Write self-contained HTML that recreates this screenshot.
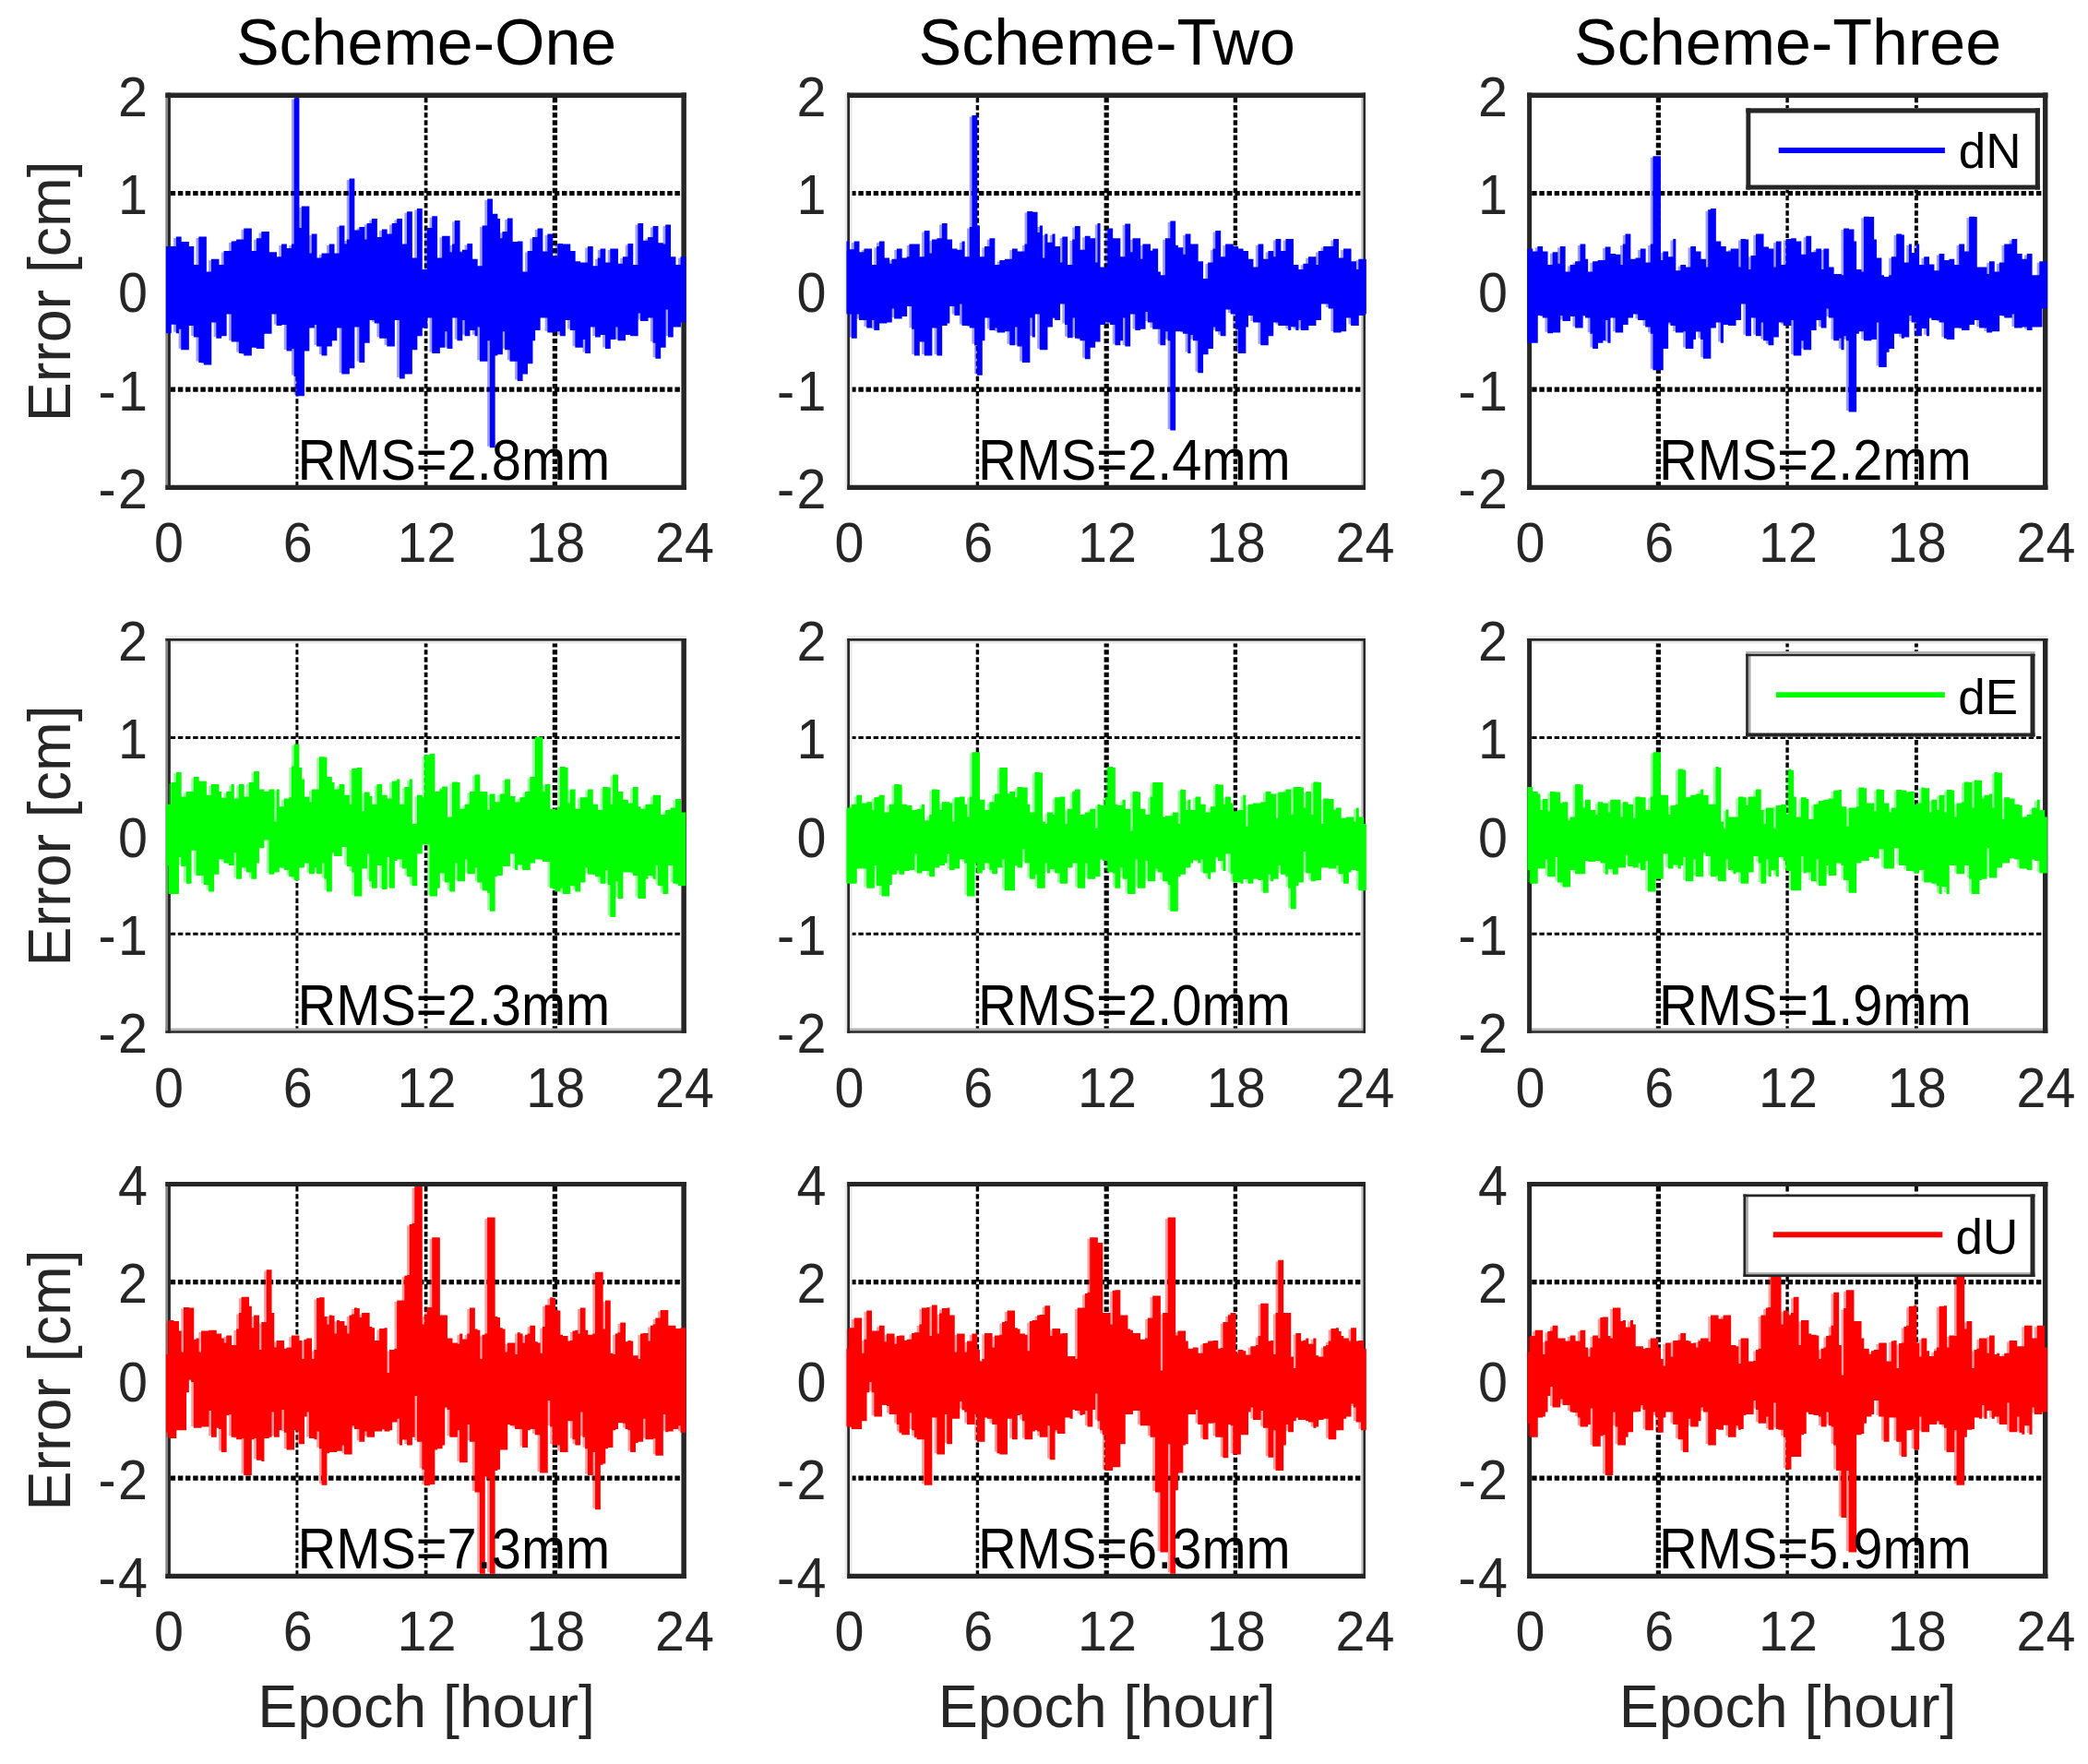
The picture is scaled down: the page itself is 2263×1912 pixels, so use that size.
<!DOCTYPE html>
<html lang="en"><head><meta charset="utf-8"><title>Positioning error of three schemes</title>
<style>html,body{margin:0;padding:0;background:#fff}body{width:2263px;height:1912px;overflow:hidden}svg{display:block}
text{font-family:"Liberation Sans", Arial, sans-serif}
.tk{font-size:57.5px;fill:#262626}.lb{font-size:64.5px;fill:#262626}.tt{font-size:70px;fill:#000}.rm{font-size:57.8px;fill:#000}.lg{font-size:53px;fill:#000}
.gr{stroke:#000;stroke-dasharray:5.44 2.72;fill:none}.bx{stroke:#262626;stroke-width:5.3;fill:none}
.d{fill:none;stroke-width:3.1;stroke-linecap:butt}
</style></head><body>
<svg width="2263" height="1912" viewBox="0 0 2263 1912">
<rect width="2263" height="1912" fill="#fff"/>
<g>
<line class="gr" stroke-width="3.0" x1="321.9" y1="105.8" x2="321.9" y2="526.4"/>
<line class="gr" stroke-width="3.7" x1="461.6" y1="105.8" x2="461.6" y2="526.4"/>
<line class="gr" stroke-width="5.3" x1="601.4" y1="105.8" x2="601.4" y2="526.4"/>
<line class="gr" stroke-width="5.2" x1="184.7" y1="209.5" x2="739.1" y2="209.5"/>
<line class="gr" stroke-width="5.2" x1="184.7" y1="422.1" x2="739.1" y2="422.1"/>
<line x1="180.65" y1="100.40" x2="180.65" y2="530.90" stroke="#888888" stroke-width="2.70"/>
<line x1="183.45" y1="100.40" x2="183.45" y2="530.90" stroke="#262626" stroke-width="2.90"/>
<line x1="741.15" y1="100.40" x2="741.15" y2="530.90" stroke="#262626" stroke-width="5.50"/>
<line x1="179.30" y1="103.20" x2="743.90" y2="103.20" stroke="#262626" stroke-width="5.60"/>
<line x1="179.30" y1="528.35" x2="743.90" y2="528.35" stroke="#262626" stroke-width="5.10"/>
<path class="d" stroke="#0000ff" stroke-opacity="0.38" d="M181.5 268.6V359.8M184.2 268.6V350.3M186.9 268.6V350.3M189.7 258.1V359.8M192.4 258.1V355.3M195.1 263.6V377.8M197.8 263.6V377.8M200.5 263.6V377.8M203.3 268.6V351.6M206.0 268.6V351.6M208.7 288.5V364.1M211.4 288.5V364.1M214.1 258.1V391.5M216.9 258.1V391.5M219.6 258.1V394.0M222.3 296.0V394.0M225.0 296.0V394.0M227.7 282.3V347.9M230.5 282.3V347.9M233.2 282.3V365.3M235.9 288.5V365.3M238.6 288.5V362.8M241.3 273.6V362.8M244.1 273.6V339.1M246.8 273.6V339.1M249.5 263.1V369.1M252.2 263.1V369.1M254.9 261.1V369.1M257.7 261.1V381.5M260.4 261.1V381.5M263.1 249.1V384.0M265.8 249.1V384.0M268.5 249.1V384.0M271.3 273.6V375.3M274.0 273.6V375.3M276.7 259.8V376.5M279.4 259.8V376.5M282.1 252.4V376.5M284.9 252.4V360.3M287.6 252.4V360.3M290.3 274.8V360.3M293.0 274.8V339.1M295.7 274.8V339.1M298.5 279.8V351.6M301.2 279.8V351.6M303.9 266.1V350.4M306.6 266.1V350.4M309.3 270.5V379.0M312.1 270.5V379.0M314.8 266.1V376.5M317.5 107.7V406.5M320.2 107.7V427.7M322.9 248.6V427.7M325.7 224.9V427.7M328.4 224.9V379.0M331.1 224.9V379.0M333.8 276.1V354.1M336.5 254.9V354.1M339.3 254.9V350.4M342.0 281.0V374.0M344.7 281.0V374.0M347.4 276.1V384.0M350.1 276.1V384.0M352.9 276.1V374.0M355.6 266.1V374.0M358.3 266.1V367.8M361.0 276.1V367.8M363.7 276.1V354.1M366.5 246.1V354.1M369.2 246.1V404.0M371.9 266.1V404.0M374.6 261.1V404.0M377.3 195.0V397.7M380.1 195.0V397.7M382.8 251.1V352.9M385.5 251.1V352.9M388.2 247.4V391.5M390.9 247.4V391.5M393.7 261.1V370.3M396.4 243.6V370.3M399.1 243.6V345.4M401.8 238.6V345.4M404.5 238.6V349.1M407.3 258.6V349.1M410.0 258.6V365.3M412.7 249.9V365.3M415.4 249.9V365.3M418.1 254.9V374.0M420.9 254.9V374.0M423.6 243.6V374.0M426.3 243.6V345.4M429.0 238.6V345.4M431.7 238.6V409.0M434.5 266.1V409.0M437.2 266.1V404.0M439.9 230.7V404.0M442.6 230.7V404.0M445.3 281.0V377.8M448.1 281.0V377.8M450.8 227.4V362.8M453.5 227.4V362.8M456.2 293.5V354.1M458.9 293.5V354.1M461.7 248.6V342.9M464.4 248.6V342.9M467.1 235.7V381.5M469.8 235.7V381.5M472.5 281.0V381.5M475.3 281.0V375.3M478.0 257.3V375.3M480.7 257.3V357.8M483.4 257.3V376.5M486.1 274.8V376.5M488.9 266.1V342.9M491.6 240.6V342.9M494.3 240.6V367.8M497.0 274.8V367.8M499.7 272.3V345.4M502.5 272.3V362.8M505.2 265.6V362.8M507.9 265.6V356.5M510.6 282.3V356.5M513.3 282.3V362.8M516.1 289.8V352.9M518.8 289.8V390.3M521.5 246.1V390.3M524.2 246.1V390.3M526.9 216.9V367.8M529.7 216.9V483.8M532.4 233.2V483.8M535.1 233.2V384.0M537.8 238.6V382.8M540.5 259.8V382.8M543.3 252.4V357.8M546.0 252.4V377.8M548.7 238.1V377.8M551.4 238.1V390.3M554.1 263.6V390.3M556.9 263.6V390.3M559.6 263.1V411.5M562.3 263.1V411.5M565.0 296.0V404.0M567.7 296.0V404.0M570.5 273.6V392.8M573.2 273.6V392.8M575.9 258.6V367.8M578.6 258.6V356.6M581.3 249.1V356.6M584.1 249.1V342.9M586.8 274.1V342.9M589.5 274.1V342.9M592.2 254.9V359.1M594.9 254.9V359.1M597.7 279.8V359.1M600.4 279.8V357.8M603.1 265.6V357.8M605.8 265.6V362.8M608.5 266.1V362.8M611.3 266.1V345.4M614.0 266.1V345.4M616.7 273.6V356.6M619.4 273.6V356.6M622.1 284.8V375.3M624.9 284.8V375.3M627.6 286.0V375.3M630.3 286.0V366.6M633.0 286.0V381.5M635.7 268.6V381.5M638.5 268.6V352.9M641.2 289.8V352.9M643.9 289.8V364.1M646.6 281.0V364.1M649.3 271.1V361.6M652.1 271.1V361.6M654.8 286.0V376.5M657.5 286.0V376.5M660.2 271.1V366.6M662.9 271.1V366.6M665.7 271.1V352.9M668.4 287.3V367.8M671.1 287.3V367.8M673.8 279.8V367.8M676.5 279.8V361.6M679.3 265.6V361.6M682.0 265.6V362.8M684.7 288.5V362.8M687.4 288.5V362.8M690.1 243.6V337.9M692.9 243.6V346.6M695.6 262.3V346.6M698.3 262.3V346.6M701.0 258.6V342.9M703.7 258.6V342.9M706.5 246.6V370.3M709.2 246.6V387.3M711.9 264.8V387.3M714.6 264.8V375.3M717.3 266.1V375.3M720.1 244.9V334.1M722.8 244.9V364.1M725.5 279.8V364.1M728.2 279.8V352.9M730.9 288.5V352.9M733.7 288.5V352.9M736.4 279.8V347.9M739.1 279.8V347.9"/>
<path class="d" stroke="#0000ff" d="M181.5 267.1V361.3M184.2 267.1V361.3M186.9 267.1V351.8M189.7 267.1V351.8M192.4 256.6V361.3M195.1 256.6V356.8M197.8 262.1V379.3M200.5 262.1V379.3M203.3 262.1V379.3M206.0 267.1V353.1M208.7 267.1V353.1M211.4 287.0V365.6M214.1 287.0V365.6M216.9 256.6V393.0M219.6 256.6V393.0M222.3 256.6V395.5M225.0 294.5V395.5M227.7 294.5V395.5M230.5 280.8V349.4M233.2 280.8V349.4M235.9 280.8V366.8M238.6 287.0V366.8M241.3 287.0V364.3M244.1 272.1V364.3M246.8 272.1V340.6M249.5 272.1V340.6M252.2 261.6V370.6M254.9 261.6V370.6M257.7 259.6V370.6M260.4 259.6V383.0M263.1 259.6V383.0M265.8 247.6V385.5M268.5 247.6V385.5M271.3 247.6V385.5M274.0 272.1V376.8M276.7 272.1V376.8M279.4 258.3V378.0M282.1 258.3V378.0M284.9 250.9V378.0M287.6 250.9V361.8M290.3 250.9V361.8M293.0 273.3V361.8M295.7 273.3V340.6M298.5 273.3V340.6M301.2 278.3V353.1M303.9 278.3V353.1M306.6 264.6V351.9M309.3 264.6V351.9M312.1 269.0V380.5M314.8 269.0V380.5M317.5 264.6V378.0M320.2 106.2V408.0M322.9 106.2V429.2M325.7 247.1V429.2M328.4 223.4V429.2M331.1 223.4V380.5M333.8 223.4V380.5M336.5 274.6V355.6M339.3 253.4V355.6M342.0 253.4V351.9M344.7 279.5V375.5M347.4 279.5V375.5M350.1 274.6V385.5M352.9 274.6V385.5M355.6 274.6V375.5M358.3 264.6V375.5M361.0 264.6V369.3M363.7 274.6V369.3M366.5 274.6V355.6M369.2 244.6V355.6M371.9 244.6V405.5M374.6 264.6V405.5M377.3 259.6V405.5M380.1 193.5V399.2M382.8 193.5V399.2M385.5 249.6V354.4M388.2 249.6V354.4M390.9 245.9V393.0M393.7 245.9V393.0M396.4 259.6V371.8M399.1 242.1V371.8M401.8 242.1V346.9M404.5 237.1V346.9M407.3 237.1V350.6M410.0 257.1V350.6M412.7 257.1V366.8M415.4 248.4V366.8M418.1 248.4V366.8M420.9 253.4V375.5M423.6 253.4V375.5M426.3 242.1V375.5M429.0 242.1V346.9M431.7 237.1V346.9M434.5 237.1V410.5M437.2 264.6V410.5M439.9 264.6V405.5M442.6 229.2V405.5M445.3 229.2V405.5M448.1 279.5V379.3M450.8 279.5V379.3M453.5 225.9V364.3M456.2 225.9V364.3M458.9 292.0V355.6M461.7 292.0V355.6M464.4 247.1V344.4M467.1 247.1V344.4M469.8 234.2V383.0M472.5 234.2V383.0M475.3 279.5V383.0M478.0 279.5V376.8M480.7 255.8V376.8M483.4 255.8V359.3M486.1 255.8V378.0M488.9 273.3V378.0M491.6 264.6V344.4M494.3 239.1V344.4M497.0 239.1V369.3M499.7 273.3V369.3M502.5 270.8V346.9M505.2 270.8V364.3M507.9 264.1V364.3M510.6 264.1V358.0M513.3 280.8V358.0M516.1 280.8V364.3M518.8 288.3V354.4M521.5 288.3V391.8M524.2 244.6V391.8M526.9 244.6V391.8M529.7 215.4V369.3M532.4 215.4V485.3M535.1 231.7V485.3M537.8 231.7V385.5M540.5 237.1V384.3M543.3 258.3V384.3M546.0 250.9V359.3M548.7 250.9V379.3M551.4 236.6V379.3M554.1 236.6V391.8M556.9 262.1V391.8M559.6 262.1V391.8M562.3 261.6V413.0M565.0 261.6V413.0M567.7 294.5V405.5M570.5 294.5V405.5M573.2 272.1V394.3M575.9 272.1V394.3M578.6 257.1V369.3M581.3 257.1V358.1M584.1 247.6V358.1M586.8 247.6V344.4M589.5 272.6V344.4M592.2 272.6V344.4M594.9 253.4V360.6M597.7 253.4V360.6M600.4 278.3V360.6M603.1 278.3V359.3M605.8 264.1V359.3M608.5 264.1V364.3M611.3 264.6V364.3M614.0 264.6V346.9M616.7 264.6V346.9M619.4 272.1V358.1M622.1 272.1V358.1M624.9 283.3V376.8M627.6 283.3V376.8M630.3 284.5V376.8M633.0 284.5V368.1M635.7 284.5V383.0M638.5 267.1V383.0M641.2 267.1V354.4M643.9 288.3V354.4M646.6 288.3V365.6M649.3 279.5V365.6M652.1 269.6V363.1M654.8 269.6V363.1M657.5 284.5V378.0M660.2 284.5V378.0M662.9 269.6V368.1M665.7 269.6V368.1M668.4 269.6V354.4M671.1 285.8V369.3M673.8 285.8V369.3M676.5 278.3V369.3M679.3 278.3V363.1M682.0 264.1V363.1M684.7 264.1V364.3M687.4 287.0V364.3M690.1 287.0V364.3M692.9 242.1V339.4M695.6 242.1V348.1M698.3 260.8V348.1M701.0 260.8V348.1M703.7 257.1V344.4M706.5 257.1V344.4M709.2 245.1V371.8M711.9 245.1V388.8M714.6 263.3V388.8M717.3 263.3V376.8M720.1 264.6V376.8M722.8 243.4V335.6M725.5 243.4V365.6M728.2 278.3V365.6M730.9 278.3V354.4M733.7 287.0V354.4M736.4 287.0V354.4M739.1 278.3V349.4M741.8 278.3V349.4"/>
<text class="rm" transform="translate(322.4,520.4) scale(1,1.080)">RMS=2.8mm</text>
<text class="tk" text-anchor="middle" transform="translate(182.9,609.4) scale(1,1.055)">0</text>
<text class="tk" text-anchor="middle" transform="translate(322.7,609.4) scale(1,1.055)">6</text>
<text class="tk" text-anchor="middle" transform="translate(462.4,609.4) scale(1,1.055)">12</text>
<text class="tk" text-anchor="middle" transform="translate(602.2,609.4) scale(1,1.055)">18</text>
<text class="tk" text-anchor="middle" transform="translate(741.9,609.4) scale(1,1.055)">24</text>
<text class="tk" text-anchor="end" transform="translate(160.1,125.8) scale(1,1.055)">2</text>
<text class="tk" text-anchor="end" transform="translate(160.1,232.1) scale(1,1.055)">1</text>
<text class="tk" text-anchor="end" transform="translate(160.1,338.4) scale(1,1.055)">0</text>
<text class="tk" text-anchor="end" transform="translate(160.1,444.7) scale(1,1.055)">-<tspan dx="2.5">1</tspan></text>
<text class="tk" text-anchor="end" transform="translate(160.1,551.0) scale(1,1.055)">-<tspan dx="2.5">2</tspan></text>
<text class="tt" text-anchor="middle" x="462.1" y="70.0">Scheme-One</text>
<text class="lb" text-anchor="middle" transform="translate(76.0,315.8) rotate(-90)">Error [cm]</text>
</g>
<g>
<line class="gr" stroke-width="3.4" x1="1059.4" y1="105.8" x2="1059.4" y2="526.4"/>
<line class="gr" stroke-width="5.2" x1="1199.2" y1="105.8" x2="1199.2" y2="526.4"/>
<line class="gr" stroke-width="4.4" x1="1338.9" y1="105.8" x2="1338.9" y2="526.4"/>
<line class="gr" stroke-width="5.2" x1="922.2" y1="209.5" x2="1476.7" y2="209.5"/>
<line class="gr" stroke-width="5.2" x1="922.2" y1="422.1" x2="1476.7" y2="422.1"/>
<line x1="916.90" y1="100.40" x2="916.90" y2="530.90" stroke="#e9e9e9" stroke-width="2.70"/>
<line x1="922.30" y1="100.40" x2="922.30" y2="530.90" stroke="#e9e9e9" stroke-width="2.70"/>
<line x1="1476.25" y1="100.40" x2="1476.25" y2="530.90" stroke="#c9c9c9" stroke-width="2.30"/>
<line x1="919.60" y1="100.40" x2="919.60" y2="530.90" stroke="#262626" stroke-width="2.75"/>
<line x1="1478.70" y1="100.40" x2="1478.70" y2="530.90" stroke="#262626" stroke-width="2.60"/>
<line x1="918.23" y1="103.20" x2="1480.00" y2="103.20" stroke="#262626" stroke-width="5.60"/>
<line x1="918.23" y1="528.35" x2="1480.00" y2="528.35" stroke="#262626" stroke-width="5.10"/>
<path class="d" stroke="#0000ff" stroke-opacity="0.38" d="M919.0 271.7V339.1M921.7 271.7V365.3M924.4 263.1V365.3M927.2 263.1V339.1M929.9 274.8V345.4M932.6 274.8V345.4M935.3 271.1V345.4M938.0 271.1V354.1M940.8 271.1V354.1M943.5 288.5V345.4M946.2 288.5V356.6M948.9 268.6V356.6M951.6 263.1V349.1M954.4 263.1V349.1M957.1 281.0V349.1M959.8 281.0V347.9M962.5 287.3V347.9M965.2 282.3V332.9M968.0 282.3V344.1M970.7 271.1V344.1M973.4 271.1V344.1M976.1 281.0V341.6M978.8 281.0V341.6M981.6 279.8V330.4M984.3 266.1V330.4M987.0 266.1V355.3M989.7 266.1V384.0M992.4 266.1V384.0M995.2 279.8V369.1M997.9 279.8V369.1M1000.6 251.6V384.0M1003.3 251.6V384.0M1006.0 276.1V384.0M1008.8 261.1V354.1M1011.5 261.1V354.1M1014.2 259.8V384.0M1016.9 259.8V384.0M1019.6 243.6V351.6M1022.4 243.6V351.6M1025.1 261.1V349.1M1027.8 261.1V330.4M1030.5 271.1V330.4M1033.2 271.1V340.4M1036.0 272.3V340.4M1038.7 272.3V327.9M1041.4 263.1V351.6M1044.1 279.8V351.6M1046.8 279.8V351.6M1049.6 247.4V354.1M1052.3 126.4V354.1M1055.0 126.4V372.8M1057.7 246.1V405.2M1060.4 279.8V405.2M1063.2 279.8V367.8M1065.9 268.6V342.9M1068.6 268.6V342.9M1071.3 259.8V356.6M1074.0 259.8V356.6M1076.8 288.5V354.1M1079.5 288.5V359.1M1082.2 283.5V359.1M1084.9 283.5V359.1M1087.6 282.3V357.8M1090.4 282.3V357.8M1093.1 282.3V372.8M1095.8 271.1V372.8M1098.5 271.1V352.9M1101.2 274.1V374.0M1104.0 274.1V374.0M1106.7 274.1V391.5M1109.4 266.1V391.5M1112.1 230.4V391.5M1114.8 230.4V342.9M1117.6 231.2V364.1M1120.3 231.2V339.1M1123.0 253.6V339.1M1125.7 246.1V377.8M1128.4 281.0V377.8M1131.2 254.9V377.8M1133.9 264.2V352.9M1136.6 264.2V352.9M1139.3 254.9V342.9M1142.0 268.6V345.4M1144.8 268.6V345.4M1147.5 286.0V327.9M1150.2 258.1V327.9M1152.9 258.1V350.4M1155.6 288.5V364.8M1158.4 288.5V364.8M1161.1 261.1V342.9M1163.8 246.6V365.3M1166.5 246.6V365.3M1169.2 272.3V367.8M1172.0 272.3V367.8M1174.7 257.3V387.8M1177.4 257.3V387.8M1180.1 259.8V375.3M1182.8 259.8V375.3M1185.6 286.0V369.1M1188.3 243.6V369.1M1191.0 291.0V350.4M1193.7 291.0V350.4M1196.4 291.0V347.9M1199.2 249.1V347.9M1201.9 249.1V350.4M1204.6 259.8V350.4M1207.3 259.8V372.8M1210.0 259.8V372.8M1212.8 279.8V367.8M1215.5 279.8V342.9M1218.2 244.1V374.0M1220.9 244.1V374.0M1223.6 274.8V339.1M1226.4 259.8V339.1M1229.1 259.8V356.6M1231.8 259.8V356.6M1234.5 282.3V355.3M1237.2 266.1V355.3M1240.0 266.1V336.6M1242.7 266.1V347.9M1245.4 273.6V347.9M1248.1 271.1V355.3M1250.8 271.1V355.3M1253.6 296.0V355.3M1256.3 299.7V372.8M1259.0 299.7V372.8M1261.7 259.8V357.8M1264.4 259.8V367.8M1267.2 241.1V465.1M1269.9 241.1V465.1M1272.6 267.3V357.8M1275.3 269.8V357.8M1278.0 269.8V357.8M1280.8 277.3V360.3M1283.5 254.9V360.3M1286.2 254.9V381.5M1288.9 266.1V361.6M1291.6 266.1V367.8M1294.4 266.1V367.8M1297.1 284.8V402.7M1299.8 284.8V402.7M1302.5 303.5V382.8M1305.2 303.5V382.8M1308.0 286.0V376.5M1310.7 286.0V376.5M1313.4 271.1V352.9M1316.1 251.6V357.8M1318.8 251.6V357.8M1321.6 279.8V362.8M1324.3 279.8V362.8M1327.0 266.1V334.1M1329.7 266.1V334.1M1332.4 266.1V339.1M1335.2 268.6V339.1M1337.9 268.6V355.3M1340.6 271.1V381.5M1343.3 271.1V381.5M1346.0 273.6V381.5M1348.8 273.6V352.9M1351.5 282.3V340.4M1354.2 282.3V340.4M1356.9 291.0V347.9M1359.6 291.0V347.9M1362.4 266.1V347.9M1365.1 266.1V372.8M1367.8 282.3V372.8M1370.5 282.3V372.8M1373.2 273.6V362.8M1376.0 273.6V362.8M1378.7 279.8V347.9M1381.4 260.6V347.9M1384.1 260.6V351.6M1386.8 273.6V351.6M1389.6 273.6V351.6M1392.3 260.6V351.6M1395.0 260.6V356.6M1397.7 260.6V352.7M1400.4 288.5V352.7M1403.2 288.5V356.6M1405.9 293.5V345.4M1408.6 293.5V356.6M1411.3 287.3V356.6M1414.0 287.3V356.6M1416.8 279.8V351.6M1419.5 279.8V351.6M1422.2 279.8V351.6M1424.9 288.5V345.4M1427.6 273.6V345.4M1430.4 273.6V327.9M1433.1 268.6V327.9M1435.8 268.6V327.9M1438.5 268.6V332.9M1441.2 268.6V332.9M1444.0 260.6V359.1M1446.7 260.6V359.1M1449.4 281.0V359.1M1452.1 281.0V357.8M1454.8 271.1V357.8M1457.6 271.1V342.9M1460.3 271.1V342.9M1463.0 284.8V351.6M1465.7 284.8V351.6M1468.4 293.5V351.6M1471.2 282.3V340.4M1473.9 282.3V340.4M1476.6 282.3V339.1"/>
<path class="d" stroke="#0000ff" d="M919.0 261.6V340.6M921.7 270.2V340.6M924.4 270.2V366.8M927.2 261.6V366.8M929.9 261.6V340.6M932.6 273.3V346.9M935.3 273.3V346.9M938.0 269.6V346.9M940.8 269.6V355.6M943.5 269.6V355.6M946.2 287.0V346.9M948.9 287.0V358.1M951.6 267.1V358.1M954.4 261.6V350.6M957.1 261.6V350.6M959.8 279.5V350.6M962.5 279.5V349.4M965.2 285.8V349.4M968.0 280.8V334.4M970.7 280.8V345.6M973.4 269.6V345.6M976.1 269.6V345.6M978.8 279.5V343.1M981.6 279.5V343.1M984.3 278.3V331.9M987.0 264.6V331.9M989.7 264.6V356.8M992.4 264.6V385.5M995.2 264.6V385.5M997.9 278.3V370.6M1000.6 278.3V370.6M1003.3 250.1V385.5M1006.0 250.1V385.5M1008.8 274.6V385.5M1011.5 259.6V355.6M1014.2 259.6V355.6M1016.9 258.3V385.5M1019.6 258.3V385.5M1022.4 242.1V353.1M1025.1 242.1V353.1M1027.8 259.6V350.6M1030.5 259.6V331.9M1033.2 269.6V331.9M1036.0 269.6V341.9M1038.7 270.8V341.9M1041.4 270.8V329.4M1044.1 261.6V353.1M1046.8 278.3V353.1M1049.6 278.3V353.1M1052.3 245.9V355.6M1055.0 124.9V355.6M1057.7 124.9V374.3M1060.4 244.6V406.7M1063.2 278.3V406.7M1065.9 278.3V369.3M1068.6 267.1V344.4M1071.3 267.1V344.4M1074.0 258.3V358.1M1076.8 258.3V358.1M1079.5 287.0V355.6M1082.2 287.0V360.6M1084.9 282.0V360.6M1087.6 282.0V360.6M1090.4 280.8V359.3M1093.1 280.8V359.3M1095.8 280.8V374.3M1098.5 269.6V374.3M1101.2 269.6V354.4M1104.0 272.6V375.5M1106.7 272.6V375.5M1109.4 272.6V393.0M1112.1 264.6V393.0M1114.8 228.9V393.0M1117.6 228.9V344.4M1120.3 229.7V365.6M1123.0 229.7V340.6M1125.7 252.1V340.6M1128.4 244.6V379.3M1131.2 279.5V379.3M1133.9 253.4V379.3M1136.6 262.7V354.4M1139.3 262.7V354.4M1142.0 253.4V344.4M1144.8 267.1V346.9M1147.5 267.1V346.9M1150.2 284.5V329.4M1152.9 256.6V329.4M1155.6 256.6V351.9M1158.4 287.0V366.3M1161.1 287.0V366.3M1163.8 259.6V344.4M1166.5 245.1V366.8M1169.2 245.1V366.8M1172.0 270.8V369.3M1174.7 270.8V369.3M1177.4 255.8V389.3M1180.1 255.8V389.3M1182.8 258.3V376.8M1185.6 258.3V376.8M1188.3 284.5V370.6M1191.0 242.1V370.6M1193.7 289.5V351.9M1196.4 289.5V351.9M1199.2 289.5V349.4M1201.9 247.6V349.4M1204.6 247.6V351.9M1207.3 258.3V351.9M1210.0 258.3V374.3M1212.8 258.3V374.3M1215.5 278.3V369.3M1218.2 278.3V344.4M1220.9 242.6V375.5M1223.6 242.6V375.5M1226.4 273.3V340.6M1229.1 258.3V340.6M1231.8 258.3V358.1M1234.5 258.3V358.1M1237.2 280.8V356.8M1240.0 264.6V356.8M1242.7 264.6V338.1M1245.4 264.6V349.4M1248.1 272.1V349.4M1250.8 269.6V356.8M1253.6 269.6V356.8M1256.3 294.5V356.8M1259.0 298.2V374.3M1261.7 298.2V374.3M1264.4 258.3V359.3M1267.2 258.3V369.3M1269.9 239.6V466.6M1272.6 239.6V466.6M1275.3 265.8V359.3M1278.0 268.3V359.3M1280.8 268.3V359.3M1283.5 275.8V361.8M1286.2 253.4V361.8M1288.9 253.4V383.0M1291.6 264.6V363.1M1294.4 264.6V369.3M1297.1 264.6V369.3M1299.8 283.3V404.2M1302.5 283.3V404.2M1305.2 302.0V384.3M1308.0 302.0V384.3M1310.7 284.5V378.0M1313.4 284.5V378.0M1316.1 269.6V354.4M1318.8 250.1V359.3M1321.6 250.1V359.3M1324.3 278.3V364.3M1327.0 278.3V364.3M1329.7 264.6V335.6M1332.4 264.6V335.6M1335.2 264.6V340.6M1337.9 267.1V340.6M1340.6 267.1V356.8M1343.3 269.6V383.0M1346.0 269.6V383.0M1348.8 272.1V383.0M1351.5 272.1V354.4M1354.2 280.8V341.9M1356.9 280.8V341.9M1359.6 289.5V349.4M1362.4 289.5V349.4M1365.1 264.6V349.4M1367.8 264.6V374.3M1370.5 280.8V374.3M1373.2 280.8V374.3M1376.0 272.1V364.3M1378.7 272.1V364.3M1381.4 278.3V349.4M1384.1 259.1V349.4M1386.8 259.1V353.1M1389.6 272.1V353.1M1392.3 272.1V353.1M1395.0 259.1V353.1M1397.7 259.1V358.1M1400.4 259.1V354.2M1403.2 287.0V354.2M1405.9 287.0V358.1M1408.6 292.0V346.9M1411.3 292.0V358.1M1414.0 285.8V358.1M1416.8 285.8V358.1M1419.5 278.3V353.1M1422.2 278.3V353.1M1424.9 278.3V353.1M1427.6 287.0V346.9M1430.4 272.1V346.9M1433.1 272.1V329.4M1435.8 267.1V329.4M1438.5 267.1V329.4M1441.2 267.1V334.4M1444.0 267.1V334.4M1446.7 259.1V360.6M1449.4 259.1V360.6M1452.1 279.5V360.6M1454.8 279.5V359.3M1457.6 269.6V359.3M1460.3 269.6V344.4M1463.0 269.6V344.4M1465.7 283.3V353.1M1468.4 283.3V353.1M1471.2 292.0V353.1M1473.9 280.8V341.9M1476.6 280.8V341.9M1479.3 280.8V340.6"/>
<text class="rm" transform="translate(1059.9,520.4) scale(1,1.080)">RMS=2.4mm</text>
<text class="tk" text-anchor="middle" transform="translate(920.4,609.4) scale(1,1.055)">0</text>
<text class="tk" text-anchor="middle" transform="translate(1060.2,609.4) scale(1,1.055)">6</text>
<text class="tk" text-anchor="middle" transform="translate(1200.0,609.4) scale(1,1.055)">12</text>
<text class="tk" text-anchor="middle" transform="translate(1339.7,609.4) scale(1,1.055)">18</text>
<text class="tk" text-anchor="middle" transform="translate(1479.5,609.4) scale(1,1.055)">24</text>
<text class="tk" text-anchor="end" transform="translate(895.6,125.8) scale(1,1.055)">2</text>
<text class="tk" text-anchor="end" transform="translate(895.6,232.1) scale(1,1.055)">1</text>
<text class="tk" text-anchor="end" transform="translate(895.6,338.4) scale(1,1.055)">0</text>
<text class="tk" text-anchor="end" transform="translate(895.6,444.7) scale(1,1.055)">-<tspan dx="2.5">1</tspan></text>
<text class="tk" text-anchor="end" transform="translate(895.6,551.0) scale(1,1.055)">-<tspan dx="2.5">2</tspan></text>
<text class="tt" text-anchor="middle" x="1199.7" y="70.0">Scheme-Two</text>
</g>
<g>
<line class="gr" stroke-width="5.2" x1="1797.4" y1="105.8" x2="1797.4" y2="526.4"/>
<line class="gr" stroke-width="3.4" x1="1937.1" y1="105.8" x2="1937.1" y2="526.4"/>
<line class="gr" stroke-width="3.9" x1="2076.9" y1="105.8" x2="2076.9" y2="526.4"/>
<line class="gr" stroke-width="5.2" x1="1660.2" y1="209.5" x2="2214.7" y2="209.5"/>
<line class="gr" stroke-width="5.2" x1="1660.2" y1="422.1" x2="2214.7" y2="422.1"/>
<line x1="1657.60" y1="100.40" x2="1657.60" y2="530.90" stroke="#262626" stroke-width="5.00"/>
<line x1="2216.70" y1="100.40" x2="2216.70" y2="530.90" stroke="#262626" stroke-width="5.40"/>
<line x1="1655.10" y1="103.20" x2="2219.40" y2="103.20" stroke="#262626" stroke-width="5.60"/>
<line x1="1655.10" y1="528.35" x2="2219.40" y2="528.35" stroke="#262626" stroke-width="5.10"/>
<path class="d" stroke="#0000ff" stroke-opacity="0.38" d="M1657.0 271.1V370.3M1659.7 274.1V370.3M1662.4 274.1V370.3M1665.2 268.6V340.4M1667.9 268.6V340.4M1670.6 274.1V342.9M1673.3 274.1V342.9M1676.0 288.5V359.8M1678.8 288.5V359.8M1681.5 274.8V359.1M1684.2 274.8V359.1M1686.9 287.3V359.1M1689.6 268.6V340.4M1692.4 268.6V346.6M1695.1 296.0V346.6M1697.8 296.0V346.6M1700.5 288.5V341.6M1703.2 288.5V341.6M1706.0 284.8V354.1M1708.7 284.8V354.1M1711.4 266.1V354.1M1714.1 266.1V340.4M1716.8 282.3V342.9M1719.6 296.0V342.9M1722.3 296.0V360.3M1725.0 284.8V376.5M1727.7 284.8V376.5M1730.4 283.5V370.3M1733.2 283.5V370.3M1735.9 283.5V367.8M1738.6 269.1V345.4M1741.3 269.1V370.3M1744.0 276.5V342.9M1746.8 276.5V342.9M1749.5 277.3V359.1M1752.2 277.3V359.1M1754.9 288.5V359.1M1757.6 266.1V350.4M1760.4 254.9V350.4M1763.1 254.9V342.9M1765.8 282.3V342.9M1768.5 282.3V339.1M1771.2 281.0V339.1M1774.0 281.0V345.4M1776.7 271.1V345.4M1779.4 271.1V345.4M1782.1 286.0V352.9M1784.8 286.0V352.9M1787.6 266.1V360.3M1790.3 170.8V399.7M1793.0 170.8V399.7M1795.7 170.8V399.7M1798.4 283.5V399.7M1801.2 274.1V376.5M1803.9 274.1V376.5M1806.6 279.8V347.9M1809.3 279.8V351.6M1812.0 260.6V351.6M1814.8 294.8V359.1M1817.5 294.8V359.1M1820.2 288.5V359.1M1822.9 288.5V357.8M1825.6 291.0V376.5M1828.4 291.0V376.5M1831.1 268.6V376.5M1833.8 268.6V366.6M1836.5 274.1V357.9M1839.2 274.1V357.9M1842.0 282.3V366.6M1844.7 282.3V387.3M1847.4 291.0V387.3M1850.1 228.7V387.3M1852.8 227.4V354.1M1855.6 227.4V354.1M1858.3 263.1V347.9M1861.0 263.1V347.9M1863.7 268.6V370.3M1866.4 268.6V350.4M1869.2 274.1V350.4M1871.9 274.1V351.6M1874.6 271.1V351.6M1877.3 271.1V351.6M1880.0 271.1V345.4M1882.8 291.0V345.4M1885.5 260.6V327.9M1888.2 260.6V327.9M1890.9 261.1V362.8M1893.6 293.5V362.8M1896.4 278.5V342.9M1899.1 278.5V342.9M1901.8 254.9V362.8M1904.5 254.9V362.8M1907.2 254.9V347.9M1910.0 269.1V367.8M1912.7 269.1V367.8M1915.4 271.1V372.8M1918.1 271.1V372.8M1920.8 291.0V364.1M1923.6 263.1V364.1M1926.3 263.1V347.9M1929.0 288.5V347.9M1931.7 288.5V351.6M1934.4 260.6V351.6M1937.2 260.6V351.6M1939.9 259.8V345.4M1942.6 259.8V384.0M1945.3 263.1V384.0M1948.0 263.1V384.0M1950.8 277.3V367.8M1953.5 277.3V377.8M1956.2 257.3V377.8M1958.9 257.3V377.8M1961.6 274.8V356.6M1964.4 274.8V356.6M1967.1 271.1V345.4M1969.8 271.1V345.4M1972.5 293.5V354.1M1975.2 271.1V354.1M1978.0 271.1V332.9M1980.7 291.0V342.9M1983.4 291.0V342.9M1986.1 298.5V367.8M1988.8 298.5V367.8M1991.6 298.5V365.3M1994.3 299.7V377.8M1997.0 249.1V362.8M1999.7 249.1V367.8M2002.4 249.9V445.1M2005.2 249.9V445.1M2007.9 263.1V445.1M2010.6 293.5V360.3M2013.3 293.5V357.8M2016.0 296.0V357.8M2018.8 236.2V367.8M2021.5 236.2V367.8M2024.2 236.6V367.8M2026.9 236.6V366.6M2029.6 261.1V366.6M2032.4 281.0V347.9M2035.1 281.0V396.5M2037.8 299.7V396.5M2040.5 301.4V396.5M2043.2 301.4V380.3M2046.0 299.7V376.5M2048.7 279.8V376.5M2051.4 279.8V360.3M2054.1 254.9V360.3M2056.8 254.9V360.3M2059.6 256.1V365.3M2062.3 286.0V364.1M2065.0 286.0V364.1M2067.7 266.1V340.4M2070.4 275.4V347.9M2073.2 275.4V347.9M2075.9 266.1V362.8M2078.6 288.5V362.8M2081.3 288.5V354.6M2084.0 279.8V354.6M2086.8 279.8V362.8M2089.5 288.0V342.9M2092.2 288.0V345.4M2094.9 294.8V345.4M2097.6 294.8V345.4M2100.4 276.5V347.9M2103.1 276.5V347.9M2105.8 283.5V365.3M2108.5 283.5V366.6M2111.2 282.3V366.6M2114.0 282.3V366.6M2116.7 288.5V354.1M2119.4 288.5V354.1M2122.1 266.1V354.1M2124.8 266.1V356.6M2127.6 274.1V356.6M2130.3 274.1V356.6M2133.0 236.2V350.4M2135.7 236.2V350.4M2138.4 236.6V345.4M2141.2 291.0V345.4M2143.9 291.0V354.1M2146.6 291.0V354.1M2149.3 291.0V354.1M2152.0 298.5V359.1M2154.8 284.8V359.1M2157.5 284.8V357.8M2160.2 296.0V357.8M2162.9 296.0V357.8M2165.6 286.0V340.4M2168.4 286.0V340.4M2171.1 266.1V342.9M2173.8 266.1V342.9M2176.5 266.1V342.9M2179.2 260.6V339.1M2182.0 260.6V354.1M2184.7 276.5V354.1M2187.4 276.5V354.1M2190.1 282.3V352.9M2192.8 282.3V352.9M2195.6 276.5V356.6M2198.3 276.5V356.6M2201.0 299.7V352.9M2203.7 299.7V352.9M2206.4 299.7V352.9M2209.2 284.8V352.9M2211.9 284.8V332.9M2214.6 284.8V332.9"/>
<path class="d" stroke="#0000ff" d="M1657.0 269.6V371.8M1659.7 269.6V371.8M1662.4 272.6V371.8M1665.2 272.6V371.8M1667.9 267.1V341.9M1670.6 267.1V341.9M1673.3 272.6V344.4M1676.0 272.6V344.4M1678.8 287.0V361.3M1681.5 287.0V361.3M1684.2 273.3V360.6M1686.9 273.3V360.6M1689.6 285.8V360.6M1692.4 267.1V341.9M1695.1 267.1V348.1M1697.8 294.5V348.1M1700.5 294.5V348.1M1703.2 287.0V343.1M1706.0 287.0V343.1M1708.7 283.3V355.6M1711.4 283.3V355.6M1714.1 264.6V355.6M1716.8 264.6V341.9M1719.6 280.8V344.4M1722.3 294.5V344.4M1725.0 294.5V361.8M1727.7 283.3V378.0M1730.4 283.3V378.0M1733.2 282.0V371.8M1735.9 282.0V371.8M1738.6 282.0V369.3M1741.3 267.6V346.9M1744.0 267.6V371.8M1746.8 275.0V344.4M1749.5 275.0V344.4M1752.2 275.8V360.6M1754.9 275.8V360.6M1757.6 287.0V360.6M1760.4 264.6V351.9M1763.1 253.4V351.9M1765.8 253.4V344.4M1768.5 280.8V344.4M1771.2 280.8V340.6M1774.0 279.5V340.6M1776.7 279.5V346.9M1779.4 269.6V346.9M1782.1 269.6V346.9M1784.8 284.5V354.4M1787.6 284.5V354.4M1790.3 264.6V361.8M1793.0 169.3V401.2M1795.7 169.3V401.2M1798.4 169.3V401.2M1801.2 282.0V401.2M1803.9 272.6V378.0M1806.6 272.6V378.0M1809.3 278.3V349.4M1812.0 278.3V353.1M1814.8 259.1V353.1M1817.5 293.3V360.6M1820.2 293.3V360.6M1822.9 287.0V360.6M1825.6 287.0V359.3M1828.4 289.5V378.0M1831.1 289.5V378.0M1833.8 267.1V378.0M1836.5 267.1V368.1M1839.2 272.6V359.4M1842.0 272.6V359.4M1844.7 280.8V368.1M1847.4 280.8V388.8M1850.1 289.5V388.8M1852.8 227.2V388.8M1855.6 225.9V355.6M1858.3 225.9V355.6M1861.0 261.6V349.4M1863.7 261.6V349.4M1866.4 267.1V371.8M1869.2 267.1V351.9M1871.9 272.6V351.9M1874.6 272.6V353.1M1877.3 269.6V353.1M1880.0 269.6V353.1M1882.8 269.6V346.9M1885.5 289.5V346.9M1888.2 259.1V329.4M1890.9 259.1V329.4M1893.6 259.6V364.3M1896.4 292.0V364.3M1899.1 277.0V344.4M1901.8 277.0V344.4M1904.5 253.4V364.3M1907.2 253.4V364.3M1910.0 253.4V349.4M1912.7 267.6V369.3M1915.4 267.6V369.3M1918.1 269.6V374.3M1920.8 269.6V374.3M1923.6 289.5V365.6M1926.3 261.6V365.6M1929.0 261.6V349.4M1931.7 287.0V349.4M1934.4 287.0V353.1M1937.2 259.1V353.1M1939.9 259.1V353.1M1942.6 258.3V346.9M1945.3 258.3V385.5M1948.0 261.6V385.5M1950.8 261.6V385.5M1953.5 275.8V369.3M1956.2 275.8V379.3M1958.9 255.8V379.3M1961.6 255.8V379.3M1964.4 273.3V358.1M1967.1 273.3V358.1M1969.8 269.6V346.9M1972.5 269.6V346.9M1975.2 292.0V355.6M1978.0 269.6V355.6M1980.7 269.6V334.4M1983.4 289.5V344.4M1986.1 289.5V344.4M1988.8 297.0V369.3M1991.6 297.0V369.3M1994.3 297.0V366.8M1997.0 298.2V379.3M1999.7 247.6V364.3M2002.4 247.6V369.3M2005.2 248.4V446.6M2007.9 248.4V446.6M2010.6 261.6V446.6M2013.3 292.0V361.8M2016.0 292.0V359.3M2018.8 294.5V359.3M2021.5 234.7V369.3M2024.2 234.7V369.3M2026.9 235.1V369.3M2029.6 235.1V368.1M2032.4 259.6V368.1M2035.1 279.5V349.4M2037.8 279.5V398.0M2040.5 298.2V398.0M2043.2 299.9V398.0M2046.0 299.9V381.8M2048.7 298.2V378.0M2051.4 278.3V378.0M2054.1 278.3V361.8M2056.8 253.4V361.8M2059.6 253.4V361.8M2062.3 254.6V366.8M2065.0 284.5V365.6M2067.7 284.5V365.6M2070.4 264.6V341.9M2073.2 273.9V349.4M2075.9 273.9V349.4M2078.6 264.6V364.3M2081.3 287.0V364.3M2084.0 287.0V356.1M2086.8 278.3V356.1M2089.5 278.3V364.3M2092.2 286.5V344.4M2094.9 286.5V346.9M2097.6 293.3V346.9M2100.4 293.3V346.9M2103.1 275.0V349.4M2105.8 275.0V349.4M2108.5 282.0V366.8M2111.2 282.0V368.1M2114.0 280.8V368.1M2116.7 280.8V368.1M2119.4 287.0V355.6M2122.1 287.0V355.6M2124.8 264.6V355.6M2127.6 264.6V358.1M2130.3 272.6V358.1M2133.0 272.6V358.1M2135.7 234.7V351.9M2138.4 234.7V351.9M2141.2 235.1V346.9M2143.9 289.5V346.9M2146.6 289.5V355.6M2149.3 289.5V355.6M2152.0 289.5V355.6M2154.8 297.0V360.6M2157.5 283.3V360.6M2160.2 283.3V359.3M2162.9 294.5V359.3M2165.6 294.5V359.3M2168.4 284.5V341.9M2171.1 284.5V341.9M2173.8 264.6V344.4M2176.5 264.6V344.4M2179.2 264.6V344.4M2182.0 259.1V340.6M2184.7 259.1V355.6M2187.4 275.0V355.6M2190.1 275.0V355.6M2192.8 280.8V354.4M2195.6 280.8V354.4M2198.3 275.0V358.1M2201.0 275.0V358.1M2203.7 298.2V354.4M2206.4 298.2V354.4M2209.2 298.2V354.4M2211.9 283.3V354.4M2214.6 283.3V334.4M2217.3 283.3V334.4"/>
<text class="rm" transform="translate(1797.9,520.4) scale(1,1.080)">RMS=2.2mm</text>
<text class="tk" text-anchor="middle" transform="translate(1658.4,609.4) scale(1,1.055)">0</text>
<text class="tk" text-anchor="middle" transform="translate(1798.2,609.4) scale(1,1.055)">6</text>
<text class="tk" text-anchor="middle" transform="translate(1937.9,609.4) scale(1,1.055)">12</text>
<text class="tk" text-anchor="middle" transform="translate(2077.7,609.4) scale(1,1.055)">18</text>
<text class="tk" text-anchor="middle" transform="translate(2217.5,609.4) scale(1,1.055)">24</text>
<text class="tk" text-anchor="end" transform="translate(1634.1,125.8) scale(1,1.055)">2</text>
<text class="tk" text-anchor="end" transform="translate(1634.1,232.1) scale(1,1.055)">1</text>
<text class="tk" text-anchor="end" transform="translate(1634.1,338.4) scale(1,1.055)">0</text>
<text class="tk" text-anchor="end" transform="translate(1634.1,444.7) scale(1,1.055)">-<tspan dx="2.5">1</tspan></text>
<text class="tk" text-anchor="end" transform="translate(1634.1,551.0) scale(1,1.055)">-<tspan dx="2.5">2</tspan></text>
<text class="tt" text-anchor="middle" x="1937.6" y="70.0">Scheme-Three</text>
<rect x="1892.40" y="117.30" width="318.50" height="88.30" fill="#fff"/>
<line x1="1894.85" y1="117.30" x2="1894.85" y2="205.60" stroke="#262626" stroke-width="4.90"/>
<line x1="2208.35" y1="117.30" x2="2208.35" y2="205.60" stroke="#262626" stroke-width="5.10"/>
<line x1="1892.40" y1="119.85" x2="2210.90" y2="119.85" stroke="#262626" stroke-width="5.10"/>
<line x1="1892.40" y1="203.10" x2="2210.90" y2="203.10" stroke="#262626" stroke-width="5.00"/>
<line x1="1927.70" y1="163.00" x2="2107.90" y2="163.00" stroke="#0000ff" stroke-width="5.90"/>
<text class="lg" x="2122.7" y="181.9">dN</text>
</g>
<g>
<line class="gr" stroke-width="3.0" x1="321.9" y1="696.0" x2="321.9" y2="1116.5"/>
<line class="gr" stroke-width="3.7" x1="461.6" y1="696.0" x2="461.6" y2="1116.5"/>
<line class="gr" stroke-width="5.3" x1="601.4" y1="696.0" x2="601.4" y2="1116.5"/>
<line class="gr" stroke-width="3.0" x1="184.7" y1="799.6" x2="739.1" y2="799.6"/>
<line class="gr" stroke-width="3.0" x1="184.7" y1="1012.2" x2="739.1" y2="1012.2"/>
<line x1="179.30" y1="690.65" x2="743.90" y2="690.65" stroke="#e9e9e9" stroke-width="2.70"/>
<line x1="179.30" y1="696.05" x2="743.90" y2="696.05" stroke="#e9e9e9" stroke-width="2.70"/>
<line x1="179.30" y1="1115.90" x2="743.90" y2="1115.90" stroke="#b3b3b3" stroke-width="2.60"/>
<line x1="180.65" y1="692.00" x2="180.65" y2="1119.80" stroke="#888888" stroke-width="2.70"/>
<line x1="183.45" y1="692.00" x2="183.45" y2="1119.80" stroke="#262626" stroke-width="2.90"/>
<line x1="741.15" y1="692.00" x2="741.15" y2="1119.80" stroke="#262626" stroke-width="5.50"/>
<line x1="179.30" y1="693.35" x2="743.90" y2="693.35" stroke="#262626" stroke-width="2.70"/>
<line x1="179.30" y1="1118.50" x2="743.90" y2="1118.50" stroke="#262626" stroke-width="2.60"/>
<path class="d" stroke="#00ff00" stroke-opacity="0.38" d="M181.5 873.3V967.5M184.2 849.6V967.5M186.9 849.6V967.5M189.7 838.4V967.5M192.4 838.4V927.6M195.1 865.1V937.6M197.8 865.1V937.6M200.5 859.6V956.3M203.3 859.6V956.3M206.0 859.6V920.2M208.7 843.4V920.2M211.4 843.4V947.6M214.1 848.3V947.6M216.9 848.3V947.6M219.6 848.3V957.6M222.3 863.3V957.6M225.0 863.3V965.0M227.7 851.6V965.0M230.5 851.6V946.3M233.2 851.6V946.3M235.9 859.6V930.1M238.6 866.3V930.1M241.3 866.3V933.9M244.1 859.6V933.9M246.8 859.6V936.4M249.5 851.6V936.4M252.2 867.1V922.7M254.9 867.1V951.3M257.7 851.6V951.3M260.4 851.6V938.9M263.1 865.1V938.9M265.8 865.1V943.9M268.5 849.6V943.9M271.3 849.6V951.3M274.0 837.6V951.3M276.7 837.6V933.9M279.4 857.1V917.7M282.1 857.1V917.7M284.9 859.6V908.9M287.6 859.6V908.9M290.3 857.1V946.3M293.0 857.1V946.3M295.7 892.0V943.9M298.5 857.1V943.9M301.2 875.8V938.9M303.9 875.8V938.9M306.6 867.1V941.4M309.3 867.1V941.4M312.1 865.8V948.8M314.8 832.1V948.8M317.5 807.9V952.6M320.2 807.9V952.6M322.9 833.4V938.9M325.7 845.9V938.9M328.4 865.1V933.9M331.1 865.1V933.9M333.8 870.8V945.8M336.5 857.1V945.8M339.3 857.1V938.9M342.0 857.1V945.8M344.7 821.7V945.8M347.4 821.7V933.9M350.1 822.2V951.3M352.9 843.4V965.0M355.6 843.4V965.0M358.3 849.6V922.7M361.0 857.1V926.4M363.7 857.1V926.4M366.5 851.6V926.4M369.2 851.6V916.4M371.9 863.3V916.4M374.6 863.3V937.6M377.3 873.3V937.6M380.1 834.6V943.9M382.8 834.6V970.0M385.5 833.4V970.0M388.2 833.4V970.0M390.9 880.8V940.1M393.7 860.1V940.1M396.4 860.1V923.9M399.1 864.6V953.8M401.8 873.3V961.3M404.5 873.3V961.3M407.3 851.6V936.4M410.0 851.6V936.4M412.7 863.3V962.6M415.4 863.3V962.6M418.1 867.1V927.6M420.9 867.1V961.3M423.6 848.3V961.3M426.3 848.3V931.4M429.0 845.9V930.1M431.7 873.3V930.1M434.5 873.3V940.1M437.2 854.6V940.1M439.9 854.6V948.8M442.6 845.9V948.8M445.3 894.5V958.8M448.1 894.5V958.8M450.8 863.3V923.9M453.5 863.3V923.9M456.2 865.8V913.9M458.9 819.7V913.9M461.7 819.7V913.9M464.4 818.4V970.0M467.1 818.4V970.0M469.8 859.6V970.0M472.5 859.6V961.3M475.3 857.1V945.1M478.0 854.1V945.1M480.7 854.1V955.1M483.4 887.0V955.1M486.1 887.0V965.0M488.9 849.1V965.0M491.6 849.1V933.9M494.3 849.6V953.8M497.0 878.3V953.8M499.7 878.3V953.8M502.5 873.3V930.1M505.2 873.3V945.8M507.9 859.6V945.8M510.6 859.6V945.8M513.3 840.9V938.9M516.1 840.9V955.1M518.8 859.6V955.1M521.5 859.6V963.8M524.2 859.6V963.8M526.9 879.5V966.3M529.7 862.1V986.2M532.4 862.1V986.2M535.1 870.8V948.8M537.8 870.8V947.6M540.5 862.1V947.6M543.3 862.1V937.6M546.0 845.9V937.6M548.7 845.9V937.6M551.4 864.6V923.9M554.1 864.6V923.9M556.9 870.8V941.4M559.6 870.8V936.0M562.3 865.8V936.0M565.0 865.8V941.4M567.7 859.6V941.4M570.5 859.6V941.4M573.2 843.4V933.9M575.9 843.4V933.9M578.6 800.2V930.1M581.3 800.2V930.1M584.1 800.2V930.1M586.8 859.6V932.6M589.5 851.6V932.6M592.2 851.6V932.6M594.9 878.3V961.3M597.7 878.3V961.3M600.4 879.5V965.0M603.1 875.8V965.0M605.8 832.6V961.3M608.5 832.6V967.5M611.3 833.4V967.5M614.0 872.0V967.5M616.7 857.1V958.8M619.4 857.1V958.8M622.1 878.3V965.0M624.9 878.3V965.0M627.6 865.8V955.1M630.3 865.8V955.1M633.0 865.8V938.9M635.7 857.1V946.3M638.5 857.1V946.3M641.2 873.3V946.3M643.9 873.3V948.8M646.6 879.5V948.8M649.3 879.5V956.3M652.1 854.6V956.3M654.8 854.6V941.4M657.5 855.1V957.6M660.2 873.3V992.5M662.9 840.9V992.5M665.7 840.9V953.8M668.4 859.6V972.5M671.1 859.6V972.5M673.8 868.3V943.9M676.5 868.3V943.9M679.3 872.0V943.9M682.0 872.0V943.9M684.7 854.6V947.6M687.4 854.6V947.6M690.1 875.8V972.5M692.9 878.3V972.5M695.6 878.3V972.5M698.3 873.3V951.3M701.0 873.3V947.4M703.7 873.3V947.4M706.5 863.3V951.3M709.2 863.3V936.4M711.9 863.3V958.8M714.6 884.5V958.8M717.3 884.5V967.5M720.1 879.5V967.5M722.8 879.5V936.4M725.5 877.0V936.4M728.2 877.0V956.3M730.9 867.5V956.3M733.7 867.5V958.8M736.4 882.0V958.8M739.1 882.0V958.8"/>
<path class="d" stroke="#00ff00" d="M181.5 871.8V937.9M184.2 871.8V969.0M186.9 848.1V969.0M189.7 848.1V969.0M192.4 836.9V969.0M195.1 836.9V929.1M197.8 863.6V939.1M200.5 863.6V939.1M203.3 858.1V957.8M206.0 858.1V957.8M208.7 858.1V921.7M211.4 841.9V921.7M214.1 841.9V949.1M216.9 846.8V949.1M219.6 846.8V949.1M222.3 846.8V959.1M225.0 861.8V959.1M227.7 861.8V966.5M230.5 850.1V966.5M233.2 850.1V947.8M235.9 850.1V947.8M238.6 858.1V931.6M241.3 864.8V931.6M244.1 864.8V935.4M246.8 858.1V935.4M249.5 858.1V937.9M252.2 850.1V937.9M254.9 865.6V924.2M257.7 865.6V952.8M260.4 850.1V952.8M263.1 850.1V940.4M265.8 863.6V940.4M268.5 863.6V945.4M271.3 848.1V945.4M274.0 848.1V952.8M276.7 836.1V952.8M279.4 836.1V935.4M282.1 855.6V919.2M284.9 855.6V919.2M287.6 858.1V910.4M290.3 858.1V910.4M293.0 855.6V947.8M295.7 855.6V947.8M298.5 890.5V945.4M301.2 855.6V945.4M303.9 874.3V940.4M306.6 874.3V940.4M309.3 865.6V942.9M312.1 865.6V942.9M314.8 864.3V950.3M317.5 830.6V950.3M320.2 806.4V954.1M322.9 806.4V954.1M325.7 831.9V940.4M328.4 844.4V940.4M331.1 863.6V935.4M333.8 863.6V935.4M336.5 869.3V947.3M339.3 855.6V947.3M342.0 855.6V940.4M344.7 855.6V947.3M347.4 820.2V947.3M350.1 820.2V935.4M352.9 820.7V952.8M355.6 841.9V966.5M358.3 841.9V966.5M361.0 848.1V924.2M363.7 855.6V927.9M366.5 855.6V927.9M369.2 850.1V927.9M371.9 850.1V917.9M374.6 861.8V917.9M377.3 861.8V939.1M380.1 871.8V939.1M382.8 833.1V945.4M385.5 833.1V971.5M388.2 831.9V971.5M390.9 831.9V971.5M393.7 879.3V941.6M396.4 858.6V941.6M399.1 858.6V925.4M401.8 863.1V955.3M404.5 871.8V962.8M407.3 871.8V962.8M410.0 850.1V937.9M412.7 850.1V937.9M415.4 861.8V964.1M418.1 861.8V964.1M420.9 865.6V929.1M423.6 865.6V962.8M426.3 846.8V962.8M429.0 846.8V932.9M431.7 844.4V931.6M434.5 871.8V931.6M437.2 871.8V941.6M439.9 853.1V941.6M442.6 853.1V950.3M445.3 844.4V950.3M448.1 893.0V960.3M450.8 893.0V960.3M453.5 861.8V925.4M456.2 861.8V925.4M458.9 864.3V915.4M461.7 818.2V915.4M464.4 818.2V915.4M467.1 816.9V971.5M469.8 816.9V971.5M472.5 858.1V971.5M475.3 858.1V962.8M478.0 855.6V946.6M480.7 852.6V946.6M483.4 852.6V956.6M486.1 885.5V956.6M488.9 885.5V966.5M491.6 847.6V966.5M494.3 847.6V935.4M497.0 848.1V955.3M499.7 876.8V955.3M502.5 876.8V955.3M505.2 871.8V931.6M507.9 871.8V947.3M510.6 858.1V947.3M513.3 858.1V947.3M516.1 839.4V940.4M518.8 839.4V956.6M521.5 858.1V956.6M524.2 858.1V965.3M526.9 858.1V965.3M529.7 878.0V967.8M532.4 860.6V987.7M535.1 860.6V987.7M537.8 869.3V950.3M540.5 869.3V949.1M543.3 860.6V949.1M546.0 860.6V939.1M548.7 844.4V939.1M551.4 844.4V939.1M554.1 863.1V925.4M556.9 863.1V925.4M559.6 869.3V942.9M562.3 869.3V937.5M565.0 864.3V937.5M567.7 864.3V942.9M570.5 858.1V942.9M573.2 858.1V942.9M575.9 841.9V935.4M578.6 841.9V935.4M581.3 798.7V931.6M584.1 798.7V931.6M586.8 798.7V931.6M589.5 858.1V934.1M592.2 850.1V934.1M594.9 850.1V934.1M597.7 876.8V962.8M600.4 876.8V962.8M603.1 878.0V966.5M605.8 874.3V966.5M608.5 831.1V962.8M611.3 831.1V969.0M614.0 831.9V969.0M616.7 870.5V969.0M619.4 855.6V960.3M622.1 855.6V960.3M624.9 876.8V966.5M627.6 876.8V966.5M630.3 864.3V956.6M633.0 864.3V956.6M635.7 864.3V940.4M638.5 855.6V947.8M641.2 855.6V947.8M643.9 871.8V947.8M646.6 871.8V950.3M649.3 878.0V950.3M652.1 878.0V957.8M654.8 853.1V957.8M657.5 853.1V942.9M660.2 853.6V959.1M662.9 871.8V994.0M665.7 839.4V994.0M668.4 839.4V955.3M671.1 858.1V974.0M673.8 858.1V974.0M676.5 866.8V945.4M679.3 866.8V945.4M682.0 870.5V945.4M684.7 870.5V945.4M687.4 853.1V949.1M690.1 853.1V949.1M692.9 874.3V974.0M695.6 876.8V974.0M698.3 876.8V974.0M701.0 871.8V952.8M703.7 871.8V948.9M706.5 871.8V948.9M709.2 861.8V952.8M711.9 861.8V937.9M714.6 861.8V960.3M717.3 883.0V960.3M720.1 883.0V969.0M722.8 878.0V969.0M725.5 878.0V937.9M728.2 875.5V937.9M730.9 875.5V957.8M733.7 866.0V957.8M736.4 866.0V960.3M739.1 880.5V960.3M741.8 880.5V960.3"/>
<text class="rm" transform="translate(322.4,1110.5) scale(1,1.080)">RMS=2.3mm</text>
<text class="tk" text-anchor="middle" transform="translate(182.9,1199.5) scale(1,1.055)">0</text>
<text class="tk" text-anchor="middle" transform="translate(322.7,1199.5) scale(1,1.055)">6</text>
<text class="tk" text-anchor="middle" transform="translate(462.4,1199.5) scale(1,1.055)">12</text>
<text class="tk" text-anchor="middle" transform="translate(602.2,1199.5) scale(1,1.055)">18</text>
<text class="tk" text-anchor="middle" transform="translate(741.9,1199.5) scale(1,1.055)">24</text>
<text class="tk" text-anchor="end" transform="translate(160.1,716.0) scale(1,1.055)">2</text>
<text class="tk" text-anchor="end" transform="translate(160.1,822.2) scale(1,1.055)">1</text>
<text class="tk" text-anchor="end" transform="translate(160.1,928.5) scale(1,1.055)">0</text>
<text class="tk" text-anchor="end" transform="translate(160.1,1034.8) scale(1,1.055)">-<tspan dx="2.5">1</tspan></text>
<text class="tk" text-anchor="end" transform="translate(160.1,1141.1) scale(1,1.055)">-<tspan dx="2.5">2</tspan></text>
<text class="lb" text-anchor="middle" transform="translate(76.0,905.9) rotate(-90)">Error [cm]</text>
</g>
<g>
<line class="gr" stroke-width="3.4" x1="1059.4" y1="696.0" x2="1059.4" y2="1116.5"/>
<line class="gr" stroke-width="5.2" x1="1199.2" y1="696.0" x2="1199.2" y2="1116.5"/>
<line class="gr" stroke-width="4.4" x1="1338.9" y1="696.0" x2="1338.9" y2="1116.5"/>
<line class="gr" stroke-width="3.0" x1="922.2" y1="799.6" x2="1476.7" y2="799.6"/>
<line class="gr" stroke-width="3.0" x1="922.2" y1="1012.2" x2="1476.7" y2="1012.2"/>
<line x1="916.90" y1="692.00" x2="916.90" y2="1119.80" stroke="#e9e9e9" stroke-width="2.70"/>
<line x1="922.30" y1="692.00" x2="922.30" y2="1119.80" stroke="#e9e9e9" stroke-width="2.70"/>
<line x1="918.23" y1="690.65" x2="1480.00" y2="690.65" stroke="#e9e9e9" stroke-width="2.70"/>
<line x1="918.23" y1="696.05" x2="1480.00" y2="696.05" stroke="#e9e9e9" stroke-width="2.70"/>
<line x1="1476.25" y1="692.00" x2="1476.25" y2="1119.80" stroke="#c9c9c9" stroke-width="2.30"/>
<line x1="918.23" y1="1115.90" x2="1480.00" y2="1115.90" stroke="#b3b3b3" stroke-width="2.60"/>
<line x1="919.60" y1="692.00" x2="919.60" y2="1119.80" stroke="#262626" stroke-width="2.75"/>
<line x1="1478.70" y1="692.00" x2="1478.70" y2="1119.80" stroke="#262626" stroke-width="2.60"/>
<line x1="918.23" y1="693.35" x2="1480.00" y2="693.35" stroke="#262626" stroke-width="2.70"/>
<line x1="918.23" y1="1118.50" x2="1480.00" y2="1118.50" stroke="#262626" stroke-width="2.60"/>
<path class="d" stroke="#00ff00" stroke-opacity="0.38" d="M919.0 877.0V956.3M921.7 873.3V956.3M924.4 873.3V956.3M927.2 863.3V940.1M929.9 863.3V940.1M932.6 872.0V940.1M935.3 872.0V940.1M938.0 870.8V961.3M940.8 870.8V961.3M943.5 879.5V961.3M946.2 865.8V936.4M948.9 865.8V958.8M951.6 863.3V958.8M954.4 863.3V970.0M957.1 882.0V970.0M959.8 882.0V970.0M962.5 873.3V957.6M965.2 873.3V946.3M968.0 851.6V946.3M970.7 851.6V941.4M973.4 852.1V946.3M976.1 873.3V946.3M978.8 873.3V942.6M981.6 874.5V942.6M984.3 874.5V941.4M987.0 879.5V941.4M989.7 879.5V923.9M992.4 878.3V945.1M995.2 878.3V945.1M997.9 873.3V942.6M1000.6 890.7V942.6M1003.3 890.7V942.6M1006.0 884.5V948.8M1008.8 857.1V948.8M1011.5 857.1V938.9M1014.2 857.6V938.9M1016.9 879.5V936.4M1019.6 870.8V936.4M1022.4 870.8V933.9M1025.1 870.8V923.9M1027.8 872.0V941.4M1030.5 892.0V941.4M1033.2 865.8V940.1M1036.0 865.8V940.1M1038.7 865.1V930.1M1041.4 865.1V930.1M1044.1 873.3V933.9M1046.8 887.0V970.0M1049.6 865.1V970.0M1052.3 816.7V970.0M1055.0 816.7V933.9M1057.7 816.7V945.1M1060.4 868.3V945.1M1063.2 868.3V941.4M1065.9 879.5V933.9M1068.6 879.5V933.9M1071.3 870.8V941.4M1074.0 870.8V945.8M1076.8 862.1V945.8M1079.5 862.1V938.9M1082.2 833.4V938.9M1084.9 833.4V930.1M1087.6 833.4V963.8M1090.4 862.1V963.8M1093.1 859.6V963.8M1095.8 859.6V963.8M1098.5 865.8V936.4M1101.2 854.6V938.9M1104.0 854.6V938.9M1106.7 855.1V918.9M1109.4 855.1V933.9M1112.1 873.3V933.9M1114.8 882.0V951.3M1117.6 882.0V951.3M1120.3 838.4V946.3M1123.0 838.4V961.3M1125.7 839.1V961.3M1128.4 892.0V961.3M1131.2 894.5V933.9M1133.9 882.0V945.1M1136.6 882.0V940.8M1139.3 884.5V940.8M1142.0 865.8V945.1M1144.8 865.8V945.1M1147.5 865.1V956.3M1150.2 865.1V956.3M1152.9 894.5V956.3M1155.6 878.3V938.9M1158.4 878.3V938.9M1161.1 859.6V933.9M1163.8 857.1V933.9M1166.5 857.1V961.3M1169.2 884.5V961.3M1172.0 884.5V961.3M1174.7 882.0V933.9M1177.4 882.0V951.3M1180.1 878.3V951.3M1182.8 878.3V951.3M1185.6 899.5V948.8M1188.3 873.3V948.8M1191.0 874.5V930.1M1193.7 874.5V931.4M1196.4 865.8V931.4M1199.2 832.6V943.9M1201.9 832.6V943.9M1204.6 833.4V945.1M1207.3 873.3V961.3M1210.0 874.5V961.3M1212.8 874.5V938.9M1215.5 868.3V951.3M1218.2 878.3V951.3M1220.9 878.3V967.5M1223.6 902.0V967.5M1226.4 859.6V967.5M1229.1 859.6V930.1M1231.8 860.1V961.3M1234.5 878.3V961.3M1237.2 878.3V961.3M1240.0 884.5V931.4M1242.7 884.5V953.8M1245.4 865.1V953.8M1248.1 849.6V953.8M1250.8 849.6V940.1M1253.6 849.6V943.9M1256.3 849.6V943.9M1259.0 887.0V953.8M1261.7 885.8V953.8M1264.4 885.8V957.6M1267.2 885.8V986.2M1269.9 882.0V986.2M1272.6 882.0V986.2M1275.3 894.5V948.8M1278.0 857.1V946.3M1280.8 857.6V946.3M1283.5 879.5V938.9M1286.2 868.3V938.9M1288.9 879.5V933.9M1291.6 879.5V931.1M1294.4 865.1V931.1M1297.1 865.1V933.9M1299.8 873.3V930.1M1302.5 873.3V945.1M1305.2 882.0V945.1M1308.0 882.0V951.3M1310.7 875.8V943.9M1313.4 875.8V943.9M1316.1 851.6V927.6M1318.8 852.1V931.4M1321.6 852.1V931.4M1324.3 873.3V942.6M1327.0 865.1V923.9M1329.7 865.1V923.9M1332.4 872.0V945.8M1335.2 880.8V955.1M1337.9 880.8V955.1M1340.6 879.5V955.1M1343.3 879.5V956.3M1346.0 863.3V951.5M1348.8 897.0V951.5M1351.5 873.3V956.3M1354.2 873.3V956.3M1356.9 872.0V951.3M1359.6 872.0V951.3M1362.4 872.0V952.6M1365.1 870.8V952.6M1367.8 870.8V966.3M1370.5 859.6V966.3M1373.2 859.6V946.3M1376.0 862.1V953.8M1378.7 862.1V951.3M1381.4 888.2V951.3M1384.1 860.1V936.4M1386.8 860.1V946.3M1389.6 860.1V946.3M1392.3 857.1V948.8M1395.0 857.1V961.3M1397.7 884.5V983.8M1400.4 854.6V983.8M1403.2 854.6V958.8M1405.9 854.6V955.1M1408.6 855.1V955.1M1411.3 877.0V921.4M1414.0 859.6V945.1M1416.8 859.6V945.1M1419.5 884.5V953.8M1422.2 849.1V953.8M1424.9 849.1V952.6M1427.6 849.6V952.6M1430.4 894.5V938.9M1433.1 867.1V938.9M1435.8 867.1V938.9M1438.5 867.5V940.1M1441.2 867.5V940.1M1444.0 879.5V940.1M1446.7 877.0V936.4M1449.4 877.0V945.8M1452.1 888.2V945.8M1454.8 888.2V956.3M1457.6 887.0V956.3M1460.3 887.0V943.9M1463.0 887.0V941.4M1465.7 892.0V941.4M1468.4 877.0V942.6M1471.2 887.0V963.8M1473.9 887.0V963.8M1476.6 894.5V963.8"/>
<path class="d" stroke="#00ff00" d="M919.0 875.5V957.8M921.7 875.5V957.8M924.4 871.8V957.8M927.2 871.8V957.8M929.9 861.8V941.6M932.6 861.8V941.6M935.3 870.5V941.6M938.0 870.5V941.6M940.8 869.3V962.8M943.5 869.3V962.8M946.2 878.0V962.8M948.9 864.3V937.9M951.6 864.3V960.3M954.4 861.8V960.3M957.1 861.8V971.5M959.8 880.5V971.5M962.5 880.5V971.5M965.2 871.8V959.1M968.0 871.8V947.8M970.7 850.1V947.8M973.4 850.1V942.9M976.1 850.6V947.8M978.8 871.8V947.8M981.6 871.8V944.1M984.3 873.0V944.1M987.0 873.0V942.9M989.7 878.0V942.9M992.4 878.0V925.4M995.2 876.8V946.6M997.9 876.8V946.6M1000.6 871.8V944.1M1003.3 889.2V944.1M1006.0 889.2V944.1M1008.8 883.0V950.3M1011.5 855.6V950.3M1014.2 855.6V940.4M1016.9 856.1V940.4M1019.6 878.0V937.9M1022.4 869.3V937.9M1025.1 869.3V935.4M1027.8 869.3V925.4M1030.5 870.5V942.9M1033.2 890.5V942.9M1036.0 864.3V941.6M1038.7 864.3V941.6M1041.4 863.6V931.6M1044.1 863.6V931.6M1046.8 871.8V935.4M1049.6 885.5V971.5M1052.3 863.6V971.5M1055.0 815.2V971.5M1057.7 815.2V935.4M1060.4 815.2V946.6M1063.2 866.8V946.6M1065.9 866.8V942.9M1068.6 878.0V935.4M1071.3 878.0V935.4M1074.0 869.3V942.9M1076.8 869.3V947.3M1079.5 860.6V947.3M1082.2 860.6V940.4M1084.9 831.9V940.4M1087.6 831.9V931.6M1090.4 831.9V965.3M1093.1 860.6V965.3M1095.8 858.1V965.3M1098.5 858.1V965.3M1101.2 864.3V937.9M1104.0 853.1V940.4M1106.7 853.1V940.4M1109.4 853.6V920.4M1112.1 853.6V935.4M1114.8 871.8V935.4M1117.6 880.5V952.8M1120.3 880.5V952.8M1123.0 836.9V947.8M1125.7 836.9V962.8M1128.4 837.6V962.8M1131.2 890.5V962.8M1133.9 893.0V935.4M1136.6 880.5V946.6M1139.3 880.5V942.3M1142.0 883.0V942.3M1144.8 864.3V946.6M1147.5 864.3V946.6M1150.2 863.6V957.8M1152.9 863.6V957.8M1155.6 893.0V957.8M1158.4 876.8V940.4M1161.1 876.8V940.4M1163.8 858.1V935.4M1166.5 855.6V935.4M1169.2 855.6V962.8M1172.0 883.0V962.8M1174.7 883.0V962.8M1177.4 880.5V935.4M1180.1 880.5V952.8M1182.8 876.8V952.8M1185.6 876.8V952.8M1188.3 898.0V950.3M1191.0 871.8V950.3M1193.7 873.0V931.6M1196.4 873.0V932.9M1199.2 864.3V932.9M1201.9 831.1V945.4M1204.6 831.1V945.4M1207.3 831.9V946.6M1210.0 871.8V962.8M1212.8 873.0V962.8M1215.5 873.0V940.4M1218.2 866.8V952.8M1220.9 876.8V952.8M1223.6 876.8V969.0M1226.4 900.5V969.0M1229.1 858.1V969.0M1231.8 858.1V931.6M1234.5 858.6V962.8M1237.2 876.8V962.8M1240.0 876.8V962.8M1242.7 883.0V932.9M1245.4 883.0V955.3M1248.1 863.6V955.3M1250.8 848.1V955.3M1253.6 848.1V941.6M1256.3 848.1V945.4M1259.0 848.1V945.4M1261.7 885.5V955.3M1264.4 884.3V955.3M1267.2 884.3V959.1M1269.9 884.3V987.7M1272.6 880.5V987.7M1275.3 880.5V987.7M1278.0 893.0V950.3M1280.8 855.6V947.8M1283.5 856.1V947.8M1286.2 878.0V940.4M1288.9 866.8V940.4M1291.6 878.0V935.4M1294.4 878.0V932.6M1297.1 863.6V932.6M1299.8 863.6V935.4M1302.5 871.8V931.6M1305.2 871.8V946.6M1308.0 880.5V946.6M1310.7 880.5V952.8M1313.4 874.3V945.4M1316.1 874.3V945.4M1318.8 850.1V929.1M1321.6 850.6V932.9M1324.3 850.6V932.9M1327.0 871.8V944.1M1329.7 863.6V925.4M1332.4 863.6V925.4M1335.2 870.5V947.3M1337.9 879.3V956.6M1340.6 879.3V956.6M1343.3 878.0V956.6M1346.0 878.0V957.8M1348.8 861.8V953.0M1351.5 895.5V953.0M1354.2 871.8V957.8M1356.9 871.8V957.8M1359.6 870.5V952.8M1362.4 870.5V952.8M1365.1 870.5V954.1M1367.8 869.3V954.1M1370.5 869.3V967.8M1373.2 858.1V967.8M1376.0 858.1V947.8M1378.7 860.6V955.3M1381.4 860.6V952.8M1384.1 886.7V952.8M1386.8 858.6V937.9M1389.6 858.6V947.8M1392.3 858.6V947.8M1395.0 855.6V950.3M1397.7 855.6V962.8M1400.4 883.0V985.3M1403.2 853.1V985.3M1405.9 853.1V960.3M1408.6 853.1V956.6M1411.3 853.6V956.6M1414.0 875.5V922.9M1416.8 858.1V946.6M1419.5 858.1V946.6M1422.2 883.0V955.3M1424.9 847.6V955.3M1427.6 847.6V954.1M1430.4 848.1V954.1M1433.1 893.0V940.4M1435.8 865.6V940.4M1438.5 865.6V940.4M1441.2 866.0V941.6M1444.0 866.0V941.6M1446.7 878.0V941.6M1449.4 875.5V937.9M1452.1 875.5V947.3M1454.8 886.7V947.3M1457.6 886.7V957.8M1460.3 885.5V957.8M1463.0 885.5V945.4M1465.7 885.5V942.9M1468.4 890.5V942.9M1471.2 875.5V944.1M1473.9 885.5V965.3M1476.6 885.5V965.3M1479.3 893.0V965.3"/>
<text class="rm" transform="translate(1059.9,1110.5) scale(1,1.080)">RMS=2.0mm</text>
<text class="tk" text-anchor="middle" transform="translate(920.4,1199.5) scale(1,1.055)">0</text>
<text class="tk" text-anchor="middle" transform="translate(1060.2,1199.5) scale(1,1.055)">6</text>
<text class="tk" text-anchor="middle" transform="translate(1200.0,1199.5) scale(1,1.055)">12</text>
<text class="tk" text-anchor="middle" transform="translate(1339.7,1199.5) scale(1,1.055)">18</text>
<text class="tk" text-anchor="middle" transform="translate(1479.5,1199.5) scale(1,1.055)">24</text>
<text class="tk" text-anchor="end" transform="translate(895.6,716.0) scale(1,1.055)">2</text>
<text class="tk" text-anchor="end" transform="translate(895.6,822.2) scale(1,1.055)">1</text>
<text class="tk" text-anchor="end" transform="translate(895.6,928.5) scale(1,1.055)">0</text>
<text class="tk" text-anchor="end" transform="translate(895.6,1034.8) scale(1,1.055)">-<tspan dx="2.5">1</tspan></text>
<text class="tk" text-anchor="end" transform="translate(895.6,1141.1) scale(1,1.055)">-<tspan dx="2.5">2</tspan></text>
</g>
<g>
<line class="gr" stroke-width="5.2" x1="1797.4" y1="696.0" x2="1797.4" y2="1116.5"/>
<line class="gr" stroke-width="3.4" x1="1937.1" y1="696.0" x2="1937.1" y2="1116.5"/>
<line class="gr" stroke-width="3.9" x1="2076.9" y1="696.0" x2="2076.9" y2="1116.5"/>
<line class="gr" stroke-width="3.0" x1="1660.2" y1="799.6" x2="2214.7" y2="799.6"/>
<line class="gr" stroke-width="3.0" x1="1660.2" y1="1012.2" x2="2214.7" y2="1012.2"/>
<line x1="1655.10" y1="690.65" x2="2219.40" y2="690.65" stroke="#e9e9e9" stroke-width="2.70"/>
<line x1="1655.10" y1="696.05" x2="2219.40" y2="696.05" stroke="#e9e9e9" stroke-width="2.70"/>
<line x1="1655.10" y1="1115.90" x2="2219.40" y2="1115.90" stroke="#b3b3b3" stroke-width="2.60"/>
<line x1="1657.60" y1="692.00" x2="1657.60" y2="1119.80" stroke="#262626" stroke-width="5.00"/>
<line x1="2216.70" y1="692.00" x2="2216.70" y2="1119.80" stroke="#262626" stroke-width="5.40"/>
<line x1="1655.10" y1="693.35" x2="2219.40" y2="693.35" stroke="#262626" stroke-width="2.70"/>
<line x1="1655.10" y1="1118.50" x2="2219.40" y2="1118.50" stroke="#262626" stroke-width="2.60"/>
<path class="d" stroke="#00ff00" stroke-opacity="0.38" d="M1657.0 854.6V956.3M1659.7 859.6V956.3M1662.4 859.6V956.3M1665.2 862.1V940.1M1667.9 879.5V940.1M1670.6 867.5V940.1M1673.3 867.5V930.1M1676.0 880.8V948.8M1678.8 859.6V948.8M1681.5 859.6V948.8M1684.2 860.1V927.6M1686.9 860.1V955.1M1689.6 872.0V955.1M1692.4 870.8V960.1M1695.1 870.8V960.1M1697.8 890.7V960.1M1700.5 887.0V941.4M1703.2 887.0V941.4M1706.0 851.6V945.8M1708.7 851.6V945.8M1711.4 852.1V945.8M1714.1 877.0V945.8M1716.8 868.3V931.4M1719.6 868.3V932.6M1722.3 879.5V932.6M1725.0 879.5V932.6M1727.7 884.5V931.4M1730.4 870.8V931.4M1733.2 870.8V933.9M1735.9 872.0V933.9M1738.6 872.0V946.3M1741.3 882.0V940.8M1744.0 868.3V940.8M1746.8 868.3V946.3M1749.5 868.3V946.3M1752.2 868.3V938.9M1754.9 887.0V938.9M1757.6 870.8V938.9M1760.4 870.8V925.1M1763.1 873.3V937.6M1765.8 873.3V937.6M1768.5 888.2V938.9M1771.2 865.1V938.9M1774.0 865.1V933.9M1776.7 865.8V941.4M1779.4 865.8V941.4M1782.1 879.5V931.4M1784.8 879.5V965.0M1787.6 865.1V965.0M1790.3 816.7V965.0M1793.0 816.7V951.3M1795.7 816.7V951.3M1798.4 863.3V951.3M1801.2 863.3V923.9M1803.9 863.3V923.9M1806.6 884.5V940.1M1809.3 874.5V940.1M1812.0 874.5V935.9M1814.8 873.3V935.9M1817.5 835.1V940.1M1820.2 835.1V936.4M1822.9 835.9V927.6M1825.6 865.8V953.8M1828.4 865.8V953.8M1831.1 863.3V953.8M1833.8 863.3V930.1M1836.5 862.1V948.8M1839.2 862.1V948.8M1842.0 857.1V948.8M1844.7 863.3V922.7M1847.4 863.3V926.4M1850.1 873.3V926.4M1852.8 873.3V948.8M1855.6 873.3V948.8M1858.3 832.6V947.6M1861.0 833.4V953.8M1863.7 892.0V953.8M1866.4 899.5V953.8M1869.2 879.0V930.1M1871.9 887.0V941.4M1874.6 887.0V941.4M1877.3 887.0V945.8M1880.0 887.0V943.9M1882.8 865.1V943.9M1885.5 865.1V956.3M1888.2 865.8V956.3M1890.9 874.5V956.3M1893.6 865.1V943.9M1896.4 865.1V943.9M1899.1 865.1V926.4M1901.8 857.1V926.4M1904.5 857.1V933.9M1907.2 879.5V956.3M1910.0 894.5V956.3M1912.7 877.0V930.1M1915.4 877.0V948.8M1918.1 877.0V941.8M1920.8 899.5V941.8M1923.6 874.5V948.8M1926.3 874.5V927.6M1929.0 873.3V927.6M1931.7 873.3V931.4M1934.4 884.5V942.6M1937.2 835.1V942.6M1939.9 836.6V963.8M1942.6 865.1V963.8M1945.3 887.0V963.8M1948.0 887.0V963.8M1950.8 865.8V926.4M1953.5 865.8V945.1M1956.2 867.5V943.9M1958.9 889.5V943.9M1961.6 889.5V953.8M1964.4 873.3V953.8M1967.1 873.3V930.1M1969.8 869.5V958.8M1972.5 869.5V958.8M1975.2 868.3V958.8M1978.0 868.3V936.4M1980.7 867.1V947.6M1983.4 867.1V947.6M1986.1 858.3V947.6M1988.8 858.3V933.9M1991.6 857.6V933.9M1994.3 875.8V936.4M1997.0 875.8V952.6M1999.7 897.0V952.6M2002.4 877.0V966.3M2005.2 877.0V966.3M2007.9 877.0V966.3M2010.6 875.8V933.9M2013.3 855.1V933.9M2016.0 855.1V931.4M2018.8 855.8V931.4M2021.5 872.0V931.4M2024.2 872.0V927.6M2026.9 872.0V927.6M2029.6 880.8V928.9M2032.4 857.1V928.9M2035.1 857.1V918.9M2037.8 857.6V918.9M2040.5 872.0V940.1M2043.2 872.0V940.1M2046.0 882.0V940.1M2048.7 877.0V940.1M2051.4 877.0V917.7M2054.1 857.6V917.7M2056.8 857.6V936.4M2059.6 858.3V936.4M2062.3 858.3V936.4M2065.0 860.1V942.6M2067.7 859.6V942.6M2070.4 859.6V942.6M2073.2 873.3V945.1M2075.9 872.0V945.1M2078.6 872.0V941.4M2081.3 855.1V941.4M2084.0 855.8V955.1M2086.8 855.8V955.1M2089.5 882.0V955.1M2092.2 868.3V956.3M2094.9 868.3V956.3M2097.6 879.5V958.8M2100.4 863.3V967.5M2103.1 863.3V959.5M2105.8 882.0V959.5M2108.5 857.6V967.5M2111.2 857.6V936.4M2114.0 858.3V936.4M2116.7 887.0V936.4M2119.4 872.0V945.8M2122.1 872.0V945.8M2124.8 870.8V945.8M2127.6 849.1V936.4M2130.3 849.1V936.4M2133.0 849.6V951.3M2135.7 877.0V967.5M2138.4 847.1V967.5M2141.2 847.6V967.5M2143.9 847.6V952.6M2146.6 867.1V951.3M2149.3 863.3V951.3M2152.0 863.3V917.7M2154.8 862.1V950.1M2157.5 877.0V950.1M2160.2 838.4V950.1M2162.9 839.1V938.9M2165.6 839.1V938.9M2168.4 889.5V933.9M2171.1 865.8V933.9M2173.8 865.8V933.9M2176.5 867.1V928.9M2179.2 867.1V928.9M2182.0 873.3V930.1M2184.7 873.3V930.1M2187.4 874.5V940.1M2190.1 887.0V940.1M2192.8 887.0V940.1M2195.6 884.5V941.4M2198.3 884.5V941.4M2201.0 877.0V930.1M2203.7 877.0V931.4M2206.4 868.3V931.4M2209.2 879.5V945.1M2211.9 879.5V945.1M2214.6 887.0V945.1"/>
<path class="d" stroke="#00ff00" d="M1657.0 853.1V942.9M1659.7 853.1V957.8M1662.4 858.1V957.8M1665.2 858.1V957.8M1667.9 860.6V941.6M1670.6 878.0V941.6M1673.3 866.0V941.6M1676.0 866.0V931.6M1678.8 879.3V950.3M1681.5 858.1V950.3M1684.2 858.1V950.3M1686.9 858.6V929.1M1689.6 858.6V956.6M1692.4 870.5V956.6M1695.1 869.3V961.6M1697.8 869.3V961.6M1700.5 889.2V961.6M1703.2 885.5V942.9M1706.0 885.5V942.9M1708.7 850.1V947.3M1711.4 850.1V947.3M1714.1 850.6V947.3M1716.8 875.5V947.3M1719.6 866.8V932.9M1722.3 866.8V934.1M1725.0 878.0V934.1M1727.7 878.0V934.1M1730.4 883.0V932.9M1733.2 869.3V932.9M1735.9 869.3V935.4M1738.6 870.5V935.4M1741.3 870.5V947.8M1744.0 880.5V942.3M1746.8 866.8V942.3M1749.5 866.8V947.8M1752.2 866.8V947.8M1754.9 866.8V940.4M1757.6 885.5V940.4M1760.4 869.3V940.4M1763.1 869.3V926.6M1765.8 871.8V939.1M1768.5 871.8V939.1M1771.2 886.7V940.4M1774.0 863.6V940.4M1776.7 863.6V935.4M1779.4 864.3V942.9M1782.1 864.3V942.9M1784.8 878.0V932.9M1787.6 878.0V966.5M1790.3 863.6V966.5M1793.0 815.2V966.5M1795.7 815.2V952.8M1798.4 815.2V952.8M1801.2 861.8V952.8M1803.9 861.8V925.4M1806.6 861.8V925.4M1809.3 883.0V941.6M1812.0 873.0V941.6M1814.8 873.0V937.4M1817.5 871.8V937.4M1820.2 833.6V941.6M1822.9 833.6V937.9M1825.6 834.4V929.1M1828.4 864.3V955.3M1831.1 864.3V955.3M1833.8 861.8V955.3M1836.5 861.8V931.6M1839.2 860.6V950.3M1842.0 860.6V950.3M1844.7 855.6V950.3M1847.4 861.8V924.2M1850.1 861.8V927.9M1852.8 871.8V927.9M1855.6 871.8V950.3M1858.3 871.8V950.3M1861.0 831.1V949.1M1863.7 831.9V955.3M1866.4 890.5V955.3M1869.2 898.0V955.3M1871.9 877.5V931.6M1874.6 885.5V942.9M1877.3 885.5V942.9M1880.0 885.5V947.3M1882.8 885.5V945.4M1885.5 863.6V945.4M1888.2 863.6V957.8M1890.9 864.3V957.8M1893.6 873.0V957.8M1896.4 863.6V945.4M1899.1 863.6V945.4M1901.8 863.6V927.9M1904.5 855.6V927.9M1907.2 855.6V935.4M1910.0 878.0V957.8M1912.7 893.0V957.8M1915.4 875.5V931.6M1918.1 875.5V950.3M1920.8 875.5V943.3M1923.6 898.0V943.3M1926.3 873.0V950.3M1929.0 873.0V929.1M1931.7 871.8V929.1M1934.4 871.8V932.9M1937.2 883.0V944.1M1939.9 833.6V944.1M1942.6 835.1V965.3M1945.3 863.6V965.3M1948.0 885.5V965.3M1950.8 885.5V965.3M1953.5 864.3V927.9M1956.2 864.3V946.6M1958.9 866.0V945.4M1961.6 888.0V945.4M1964.4 888.0V955.3M1967.1 871.8V955.3M1969.8 871.8V931.6M1972.5 868.0V960.3M1975.2 868.0V960.3M1978.0 866.8V960.3M1980.7 866.8V937.9M1983.4 865.6V949.1M1986.1 865.6V949.1M1988.8 856.8V949.1M1991.6 856.8V935.4M1994.3 856.1V935.4M1997.0 874.3V937.9M1999.7 874.3V954.1M2002.4 895.5V954.1M2005.2 875.5V967.8M2007.9 875.5V967.8M2010.6 875.5V967.8M2013.3 874.3V935.4M2016.0 853.6V935.4M2018.8 853.6V932.9M2021.5 854.3V932.9M2024.2 870.5V932.9M2026.9 870.5V929.1M2029.6 870.5V929.1M2032.4 879.3V930.4M2035.1 855.6V930.4M2037.8 855.6V920.4M2040.5 856.1V920.4M2043.2 870.5V941.6M2046.0 870.5V941.6M2048.7 880.5V941.6M2051.4 875.5V941.6M2054.1 875.5V919.2M2056.8 856.1V919.2M2059.6 856.1V937.9M2062.3 856.8V937.9M2065.0 856.8V937.9M2067.7 858.6V944.1M2070.4 858.1V944.1M2073.2 858.1V944.1M2075.9 871.8V946.6M2078.6 870.5V946.6M2081.3 870.5V942.9M2084.0 853.6V942.9M2086.8 854.3V956.6M2089.5 854.3V956.6M2092.2 880.5V956.6M2094.9 866.8V957.8M2097.6 866.8V957.8M2100.4 878.0V960.3M2103.1 861.8V969.0M2105.8 861.8V961.0M2108.5 880.5V961.0M2111.2 856.1V969.0M2114.0 856.1V937.9M2116.7 856.8V937.9M2119.4 885.5V937.9M2122.1 870.5V947.3M2124.8 870.5V947.3M2127.6 869.3V947.3M2130.3 847.6V937.9M2133.0 847.6V937.9M2135.7 848.1V952.8M2138.4 875.5V969.0M2141.2 845.6V969.0M2143.9 846.1V969.0M2146.6 846.1V954.1M2149.3 865.6V952.8M2152.0 861.8V952.8M2154.8 861.8V919.2M2157.5 860.6V951.6M2160.2 875.5V951.6M2162.9 836.9V951.6M2165.6 837.6V940.4M2168.4 837.6V940.4M2171.1 888.0V935.4M2173.8 864.3V935.4M2176.5 864.3V935.4M2179.2 865.6V930.4M2182.0 865.6V930.4M2184.7 871.8V931.6M2187.4 871.8V931.6M2190.1 873.0V941.6M2192.8 885.5V941.6M2195.6 885.5V941.6M2198.3 883.0V942.9M2201.0 883.0V942.9M2203.7 875.5V931.6M2206.4 875.5V932.9M2209.2 866.8V932.9M2211.9 878.0V946.6M2214.6 878.0V946.6M2217.3 885.5V946.6"/>
<text class="rm" transform="translate(1797.9,1110.5) scale(1,1.080)">RMS=1.9mm</text>
<text class="tk" text-anchor="middle" transform="translate(1658.4,1199.5) scale(1,1.055)">0</text>
<text class="tk" text-anchor="middle" transform="translate(1798.2,1199.5) scale(1,1.055)">6</text>
<text class="tk" text-anchor="middle" transform="translate(1937.9,1199.5) scale(1,1.055)">12</text>
<text class="tk" text-anchor="middle" transform="translate(2077.7,1199.5) scale(1,1.055)">18</text>
<text class="tk" text-anchor="middle" transform="translate(2217.5,1199.5) scale(1,1.055)">24</text>
<text class="tk" text-anchor="end" transform="translate(1634.1,716.0) scale(1,1.055)">2</text>
<text class="tk" text-anchor="end" transform="translate(1634.1,822.2) scale(1,1.055)">1</text>
<text class="tk" text-anchor="end" transform="translate(1634.1,928.5) scale(1,1.055)">0</text>
<text class="tk" text-anchor="end" transform="translate(1634.1,1034.8) scale(1,1.055)">-<tspan dx="2.5">1</tspan></text>
<text class="tk" text-anchor="end" transform="translate(1634.1,1141.1) scale(1,1.055)">-<tspan dx="2.5">2</tspan></text>
<rect x="1892.15" y="705.90" width="313.35" height="92.60" fill="#fff"/>
<line x1="1892.15" y1="707.25" x2="2205.50" y2="707.25" stroke="#b3b3b3" stroke-width="2.70"/>
<line x1="1896.15" y1="708.65" x2="1896.15" y2="798.50" stroke="#a8a8a8" stroke-width="2.70"/>
<line x1="1893.50" y1="708.65" x2="1893.50" y2="798.50" stroke="#262626" stroke-width="2.70"/>
<line x1="2203.00" y1="708.65" x2="2203.00" y2="798.50" stroke="#262626" stroke-width="5.00"/>
<line x1="1892.15" y1="710.00" x2="2205.50" y2="710.00" stroke="#262626" stroke-width="2.70"/>
<line x1="1892.15" y1="796.50" x2="2205.50" y2="796.50" stroke="#262626" stroke-width="4.00"/>
<line x1="1924.90" y1="753.10" x2="2107.80" y2="753.10" stroke="#00ff00" stroke-width="5.90"/>
<text class="lg" x="2122.2" y="773.6">dE</text>
</g>
<g>
<line class="gr" stroke-width="3.0" x1="321.9" y1="1286.0" x2="321.9" y2="1706.4"/>
<line class="gr" stroke-width="3.7" x1="461.6" y1="1286.0" x2="461.6" y2="1706.4"/>
<line class="gr" stroke-width="5.3" x1="601.4" y1="1286.0" x2="601.4" y2="1706.4"/>
<line class="gr" stroke-width="5.2" x1="184.7" y1="1389.7" x2="739.1" y2="1389.7"/>
<line class="gr" stroke-width="5.2" x1="184.7" y1="1602.2" x2="739.1" y2="1602.2"/>
<line x1="180.65" y1="1280.90" x2="180.65" y2="1711.00" stroke="#888888" stroke-width="2.70"/>
<line x1="183.45" y1="1280.90" x2="183.45" y2="1711.00" stroke="#262626" stroke-width="2.90"/>
<line x1="741.15" y1="1280.90" x2="741.15" y2="1711.00" stroke="#262626" stroke-width="5.50"/>
<line x1="179.30" y1="1283.45" x2="743.90" y2="1283.45" stroke="#262626" stroke-width="5.10"/>
<line x1="179.30" y1="1708.40" x2="743.90" y2="1708.40" stroke="#262626" stroke-width="5.20"/>
<path class="d" stroke="#ff0000" stroke-opacity="0.38" d="M181.5 1432.6V1557.5M184.2 1432.6V1557.5M186.9 1433.4V1557.5M189.7 1433.4V1548.8M192.4 1444.1V1548.8M195.1 1467.0V1548.8M197.8 1418.4V1548.8M200.5 1418.4V1507.7M203.3 1419.1V1494.0M206.0 1419.1V1496.4M208.7 1453.3V1546.3M211.4 1452.1V1546.3M214.1 1467.0V1546.3M216.9 1444.1V1545.1M219.6 1444.1V1545.1M222.3 1444.1V1545.1M225.0 1443.3V1527.6M227.7 1443.3V1556.3M230.5 1443.3V1556.3M233.2 1447.1V1546.3M235.9 1447.1V1547.6M238.6 1452.1V1572.5M241.3 1457.1V1572.5M244.1 1449.1V1532.6M246.8 1449.1V1531.4M249.5 1459.5V1556.3M252.2 1459.5V1556.3M254.9 1442.1V1558.8M257.7 1424.6V1558.8M260.4 1407.2V1557.5M263.1 1407.2V1597.4M265.8 1407.2V1597.4M268.5 1417.2V1597.4M271.3 1440.8V1558.8M274.0 1427.1V1557.5M276.7 1427.1V1581.2M279.4 1464.5V1581.2M282.1 1434.6V1582.5M284.9 1434.6V1557.5M287.6 1377.7V1557.5M290.3 1377.7V1556.3M293.0 1424.6V1528.9M295.7 1462.0V1556.3M298.5 1454.6V1556.3M301.2 1454.6V1548.8M303.9 1454.6V1526.4M306.6 1463.3V1551.3M309.3 1462.0V1570.0M312.1 1462.0V1570.0M314.8 1449.1V1570.0M317.5 1449.1V1548.8M320.2 1449.1V1550.1M322.9 1454.6V1563.8M325.7 1474.5V1563.8M328.4 1453.3V1533.9M331.1 1452.1V1528.9M333.8 1452.1V1557.5M336.5 1474.5V1557.5M339.3 1464.5V1558.8M342.0 1408.4V1550.1M344.7 1407.7V1568.8M347.4 1407.7V1608.2M350.1 1428.4V1608.2M352.9 1437.1V1573.8M355.6 1427.1V1572.5M358.3 1427.6V1572.5M361.0 1447.1V1572.5M363.7 1432.6V1571.3M366.5 1433.4V1571.3M369.2 1433.4V1565.0M371.9 1438.3V1575.0M374.6 1447.1V1575.0M377.3 1427.1V1575.0M380.1 1425.9V1543.8M382.8 1419.1V1547.6M385.5 1419.6V1547.6M388.2 1429.6V1561.3M390.9 1424.6V1561.3M393.7 1424.6V1550.1M396.4 1424.6V1556.3M399.1 1439.6V1556.3M401.8 1440.8V1556.3M404.5 1454.6V1550.1M407.3 1454.6V1550.1M410.0 1441.6V1550.1M412.7 1441.6V1547.6M415.4 1440.8V1550.1M418.1 1489.5V1550.1M420.9 1464.5V1548.8M423.6 1464.5V1540.1M426.3 1463.3V1540.1M429.0 1410.9V1536.3M431.7 1410.9V1565.0M434.5 1410.9V1559.1M437.2 1384.2V1559.1M439.9 1383.5V1565.0M442.6 1328.6V1565.0M445.3 1327.4V1556.3M448.1 1287.5V1511.4M450.8 1287.5V1561.3M453.5 1287.5V1561.3M456.2 1437.1V1591.2M458.9 1427.1V1608.7M461.7 1418.4V1608.7M464.4 1418.4V1607.4M467.1 1342.8V1607.4M469.8 1342.8V1570.0M472.5 1342.8V1568.8M475.3 1427.1V1568.8M478.0 1427.1V1565.0M480.7 1427.1V1523.9M483.4 1452.1V1526.4M486.1 1452.1V1556.3M488.9 1457.1V1556.3M491.6 1457.1V1556.3M494.3 1458.3V1548.8M497.0 1447.1V1583.7M499.7 1452.9V1583.7M502.5 1452.9V1583.7M505.2 1447.1V1542.6M507.9 1419.1V1561.3M510.6 1419.1V1561.3M513.3 1442.1V1616.1M516.1 1443.3V1616.1M518.8 1474.5V1704.3M521.5 1448.3V1704.3M524.2 1447.1V1598.7M526.9 1321.1V1601.2M529.7 1321.1V1704.3M532.4 1321.1V1704.3M535.1 1428.4V1592.5M537.8 1429.6V1591.2M540.5 1440.8V1570.0M543.3 1442.1V1570.0M546.0 1467.0V1570.0M548.7 1457.1V1542.6M551.4 1457.1V1543.8M554.1 1457.1V1543.8M556.9 1469.5V1547.6M559.6 1445.8V1547.6M562.3 1447.1V1547.6M565.0 1457.1V1567.5M567.7 1448.3V1567.5M570.5 1447.1V1548.8M573.2 1438.3V1547.6M575.9 1438.3V1547.6M578.6 1455.8V1553.8M581.3 1457.1V1553.8M584.1 1468.3V1594.9M586.8 1439.6V1594.9M589.5 1415.9V1594.9M592.2 1415.9V1516.4M594.9 1407.7V1545.1M597.7 1408.4V1565.0M600.4 1420.9V1565.0M603.1 1422.1V1565.0M605.8 1448.3V1572.5M608.5 1449.6V1572.5M611.3 1449.6V1572.5M614.0 1455.1V1538.8M616.7 1454.6V1538.8M619.4 1444.1V1558.8M622.1 1443.3V1565.0M624.9 1447.1V1565.0M627.6 1419.1V1528.9M630.3 1419.1V1556.3M633.0 1443.3V1568.8M635.7 1448.3V1597.4M638.5 1448.3V1597.4M641.2 1447.1V1572.5M643.9 1380.2V1634.8M646.6 1380.2V1634.8M649.3 1380.2V1586.2M652.1 1442.1V1585.0M654.8 1410.9V1568.8M657.5 1410.9V1567.5M660.2 1468.3V1567.5M662.9 1469.5V1548.8M665.7 1447.1V1547.6M668.4 1445.8V1540.8M671.1 1435.1V1540.8M673.8 1435.1V1541.3M676.5 1455.8V1547.6M679.3 1454.6V1548.8M682.0 1455.1V1572.5M684.7 1470.8V1572.5M687.4 1470.8V1562.5M690.1 1474.5V1561.3M692.9 1447.1V1561.3M695.6 1446.6V1536.3M698.3 1446.6V1558.8M701.0 1455.1V1558.8M703.7 1438.3V1558.8M706.5 1437.1V1557.5M709.2 1430.1V1576.2M711.9 1430.1V1576.2M714.6 1421.6V1576.2M717.3 1421.6V1531.4M720.1 1421.6V1550.8M722.8 1438.3V1550.1M725.5 1438.3V1550.1M728.2 1438.3V1547.6M730.9 1441.6V1547.6M733.7 1441.6V1543.8M736.4 1440.8V1551.3M739.1 1440.8V1551.3"/>
<path class="d" stroke="#ff0000" d="M181.5 1468.0V1552.8M184.2 1431.1V1559.0M186.9 1431.1V1559.0M189.7 1431.9V1559.0M192.4 1431.9V1550.3M195.1 1442.6V1550.3M197.8 1465.5V1550.3M200.5 1416.9V1550.3M203.3 1416.9V1509.2M206.0 1417.6V1495.5M208.7 1417.6V1497.9M211.4 1451.8V1547.8M214.1 1450.6V1547.8M216.9 1465.5V1547.8M219.6 1442.6V1546.6M222.3 1442.6V1546.6M225.0 1442.6V1546.6M227.7 1441.8V1529.1M230.5 1441.8V1557.8M233.2 1441.8V1557.8M235.9 1445.6V1547.8M238.6 1445.6V1549.1M241.3 1450.6V1574.0M244.1 1455.6V1574.0M246.8 1447.6V1534.1M249.5 1447.6V1532.9M252.2 1458.0V1557.8M254.9 1458.0V1557.8M257.7 1440.6V1560.3M260.4 1423.1V1560.3M263.1 1405.7V1559.0M265.8 1405.7V1598.9M268.5 1405.7V1598.9M271.3 1415.7V1598.9M274.0 1439.3V1560.3M276.7 1425.6V1559.0M279.4 1425.6V1582.7M282.1 1463.0V1582.7M284.9 1433.1V1584.0M287.6 1433.1V1559.0M290.3 1376.2V1559.0M293.0 1376.2V1557.8M295.7 1423.1V1530.4M298.5 1460.5V1557.8M301.2 1453.1V1557.8M303.9 1453.1V1550.3M306.6 1453.1V1527.9M309.3 1461.8V1552.8M312.1 1460.5V1571.5M314.8 1460.5V1571.5M317.5 1447.6V1571.5M320.2 1447.6V1550.3M322.9 1447.6V1551.6M325.7 1453.1V1565.3M328.4 1473.0V1565.3M331.1 1451.8V1535.4M333.8 1450.6V1530.4M336.5 1450.6V1559.0M339.3 1473.0V1559.0M342.0 1463.0V1560.3M344.7 1406.9V1551.6M347.4 1406.2V1570.3M350.1 1406.2V1609.7M352.9 1426.9V1609.7M355.6 1435.6V1575.3M358.3 1425.6V1574.0M361.0 1426.1V1574.0M363.7 1445.6V1574.0M366.5 1431.1V1572.8M369.2 1431.9V1572.8M371.9 1431.9V1566.5M374.6 1436.8V1576.5M377.3 1445.6V1576.5M380.1 1425.6V1576.5M382.8 1424.4V1545.3M385.5 1417.6V1549.1M388.2 1418.1V1549.1M390.9 1428.1V1562.8M393.7 1423.1V1562.8M396.4 1423.1V1551.6M399.1 1423.1V1557.8M401.8 1438.1V1557.8M404.5 1439.3V1557.8M407.3 1453.1V1551.6M410.0 1453.1V1551.6M412.7 1440.1V1551.6M415.4 1440.1V1549.1M418.1 1439.3V1551.6M420.9 1488.0V1551.6M423.6 1463.0V1550.3M426.3 1463.0V1541.6M429.0 1461.8V1541.6M431.7 1409.4V1537.8M434.5 1409.4V1566.5M437.2 1409.4V1560.6M439.9 1382.7V1560.6M442.6 1382.0V1566.5M445.3 1327.1V1566.5M448.1 1325.9V1557.8M450.8 1286.0V1512.9M453.5 1286.0V1562.8M456.2 1286.0V1562.8M458.9 1435.6V1592.7M461.7 1425.6V1610.2M464.4 1416.9V1610.2M467.1 1416.9V1608.9M469.8 1341.3V1608.9M472.5 1341.3V1571.5M475.3 1341.3V1570.3M478.0 1425.6V1570.3M480.7 1425.6V1566.5M483.4 1425.6V1525.4M486.1 1450.6V1527.9M488.9 1450.6V1557.8M491.6 1455.6V1557.8M494.3 1455.6V1557.8M497.0 1456.8V1550.3M499.7 1445.6V1585.2M502.5 1451.4V1585.2M505.2 1451.4V1585.2M507.9 1445.6V1544.1M510.6 1417.6V1562.8M513.3 1417.6V1562.8M516.1 1440.6V1617.6M518.8 1441.8V1617.6M521.5 1473.0V1705.8M524.2 1446.8V1705.8M526.9 1445.6V1600.2M529.7 1319.6V1602.7M532.4 1319.6V1705.8M535.1 1319.6V1705.8M537.8 1426.9V1594.0M540.5 1428.1V1592.7M543.3 1439.3V1571.5M546.0 1440.6V1571.5M548.7 1465.5V1571.5M551.4 1455.6V1544.1M554.1 1455.6V1545.3M556.9 1455.6V1545.3M559.6 1468.0V1549.1M562.3 1444.3V1549.1M565.0 1445.6V1549.1M567.7 1455.6V1569.0M570.5 1446.8V1569.0M573.2 1445.6V1550.3M575.9 1436.8V1549.1M578.6 1436.8V1549.1M581.3 1454.3V1555.3M584.1 1455.6V1555.3M586.8 1466.8V1596.4M589.5 1438.1V1596.4M592.2 1414.4V1596.4M594.9 1414.4V1517.9M597.7 1406.2V1546.6M600.4 1406.9V1566.5M603.1 1419.4V1566.5M605.8 1420.6V1566.5M608.5 1446.8V1574.0M611.3 1448.1V1574.0M614.0 1448.1V1574.0M616.7 1453.6V1540.3M619.4 1453.1V1540.3M622.1 1442.6V1560.3M624.9 1441.8V1566.5M627.6 1445.6V1566.5M630.3 1417.6V1530.4M633.0 1417.6V1557.8M635.7 1441.8V1570.3M638.5 1446.8V1598.9M641.2 1446.8V1598.9M643.9 1445.6V1574.0M646.6 1378.7V1636.3M649.3 1378.7V1636.3M652.1 1378.7V1587.7M654.8 1440.6V1586.5M657.5 1409.4V1570.3M660.2 1409.4V1569.0M662.9 1466.8V1569.0M665.7 1468.0V1550.3M668.4 1445.6V1549.1M671.1 1444.3V1542.3M673.8 1433.6V1542.3M676.5 1433.6V1542.8M679.3 1454.3V1549.1M682.0 1453.1V1550.3M684.7 1453.6V1574.0M687.4 1469.3V1574.0M690.1 1469.3V1564.0M692.9 1473.0V1562.8M695.6 1445.6V1562.8M698.3 1445.1V1537.8M701.0 1445.1V1560.3M703.7 1453.6V1560.3M706.5 1436.8V1560.3M709.2 1435.6V1559.0M711.9 1428.6V1577.7M714.6 1428.6V1577.7M717.3 1420.1V1577.7M720.1 1420.1V1532.9M722.8 1420.1V1552.3M725.5 1436.8V1551.6M728.2 1436.8V1551.6M730.9 1436.8V1549.1M733.7 1440.1V1549.1M736.4 1440.1V1545.3M739.1 1439.3V1552.8M741.8 1439.3V1552.8"/>
<text class="rm" transform="translate(322.4,1700.4) scale(1,1.080)">RMS=7.3mm</text>
<text class="tk" text-anchor="middle" transform="translate(182.9,1789.4) scale(1,1.055)">0</text>
<text class="tk" text-anchor="middle" transform="translate(322.7,1789.4) scale(1,1.055)">6</text>
<text class="tk" text-anchor="middle" transform="translate(462.4,1789.4) scale(1,1.055)">12</text>
<text class="tk" text-anchor="middle" transform="translate(602.2,1789.4) scale(1,1.055)">18</text>
<text class="tk" text-anchor="middle" transform="translate(741.9,1789.4) scale(1,1.055)">24</text>
<text class="tk" text-anchor="end" transform="translate(160.1,1306.0) scale(1,1.055)">4</text>
<text class="tk" text-anchor="end" transform="translate(160.1,1412.3) scale(1,1.055)">2</text>
<text class="tk" text-anchor="end" transform="translate(160.1,1518.5) scale(1,1.055)">0</text>
<text class="tk" text-anchor="end" transform="translate(160.1,1624.8) scale(1,1.055)">-<tspan dx="2.5">2</tspan></text>
<text class="tk" text-anchor="end" transform="translate(160.1,1731.0) scale(1,1.055)">-<tspan dx="2.5">4</tspan></text>
<text class="lb" text-anchor="middle" x="462.1" y="1871.5">Epoch [hour]</text>
<text class="lb" text-anchor="middle" transform="translate(76.0,1495.9) rotate(-90)">Error [cm]</text>
</g>
<g>
<line class="gr" stroke-width="3.4" x1="1059.4" y1="1286.0" x2="1059.4" y2="1706.4"/>
<line class="gr" stroke-width="5.2" x1="1199.2" y1="1286.0" x2="1199.2" y2="1706.4"/>
<line class="gr" stroke-width="4.4" x1="1338.9" y1="1286.0" x2="1338.9" y2="1706.4"/>
<line class="gr" stroke-width="5.2" x1="922.2" y1="1389.7" x2="1476.7" y2="1389.7"/>
<line class="gr" stroke-width="5.2" x1="922.2" y1="1602.2" x2="1476.7" y2="1602.2"/>
<line x1="916.90" y1="1280.90" x2="916.90" y2="1711.00" stroke="#e9e9e9" stroke-width="2.70"/>
<line x1="922.30" y1="1280.90" x2="922.30" y2="1711.00" stroke="#e9e9e9" stroke-width="2.70"/>
<line x1="1476.25" y1="1280.90" x2="1476.25" y2="1711.00" stroke="#c9c9c9" stroke-width="2.30"/>
<line x1="919.60" y1="1280.90" x2="919.60" y2="1711.00" stroke="#262626" stroke-width="2.75"/>
<line x1="1478.70" y1="1280.90" x2="1478.70" y2="1711.00" stroke="#262626" stroke-width="2.60"/>
<line x1="918.23" y1="1283.45" x2="1480.00" y2="1283.45" stroke="#262626" stroke-width="5.10"/>
<line x1="918.23" y1="1708.40" x2="1480.00" y2="1708.40" stroke="#262626" stroke-width="5.20"/>
<path class="d" stroke="#ff0000" stroke-opacity="0.38" d="M919.0 1440.8V1545.1M921.7 1440.8V1547.6M924.4 1430.1V1547.6M927.2 1430.1V1547.6M929.9 1430.1V1547.6M932.6 1468.3V1538.8M935.3 1453.3V1538.8M938.0 1422.1V1507.7M940.8 1422.1V1496.4M943.5 1444.1V1507.7M946.2 1444.1V1533.9M948.9 1444.1V1533.9M951.6 1438.3V1533.9M954.4 1438.3V1521.4M957.1 1455.8V1521.4M959.8 1447.1V1522.6M962.5 1447.1V1531.4M965.2 1447.1V1531.4M968.0 1458.3V1531.4M970.7 1449.6V1542.6M973.4 1449.1V1551.3M976.1 1449.1V1553.8M978.8 1454.6V1553.8M981.6 1453.3V1553.8M984.3 1453.3V1530.1M987.0 1446.6V1548.8M989.7 1445.8V1556.3M992.4 1445.8V1558.8M995.2 1437.1V1558.8M997.9 1419.1V1558.8M1000.6 1419.1V1608.2M1003.3 1418.4V1608.2M1006.0 1449.6V1608.2M1008.8 1415.9V1535.1M1011.5 1415.9V1535.1M1014.2 1447.1V1575.0M1016.9 1425.1V1575.0M1019.6 1419.6V1575.0M1022.4 1419.6V1531.4M1025.1 1419.1V1563.8M1027.8 1427.1V1563.8M1030.5 1427.1V1536.3M1033.2 1467.0V1536.3M1036.0 1447.1V1536.3M1038.7 1447.1V1517.6M1041.4 1447.1V1526.4M1044.1 1467.0V1528.9M1046.8 1455.1V1542.6M1049.6 1455.1V1542.6M1052.3 1447.1V1542.6M1055.0 1447.1V1531.4M1057.7 1464.5V1561.3M1060.4 1477.0V1561.3M1063.2 1474.5V1561.3M1065.9 1446.6V1535.1M1068.6 1446.6V1536.3M1071.3 1446.6V1536.3M1074.0 1462.0V1542.6M1076.8 1449.1V1542.6M1079.5 1449.1V1573.8M1082.2 1448.3V1575.0M1084.9 1434.6V1575.0M1087.6 1433.4V1575.0M1090.4 1422.1V1536.3M1093.1 1422.1V1536.3M1095.8 1422.1V1558.8M1098.5 1440.8V1558.8M1101.2 1442.1V1532.6M1104.0 1447.1V1531.4M1106.7 1447.1V1538.8M1109.4 1448.3V1558.8M1112.1 1465.8V1558.8M1114.8 1433.4V1558.8M1117.6 1432.6V1550.1M1120.3 1432.6V1548.8M1123.0 1427.1V1550.1M1125.7 1426.6V1556.3M1128.4 1426.6V1556.3M1131.2 1416.7V1556.3M1133.9 1416.7V1543.8M1136.6 1449.6V1580.7M1139.3 1441.6V1580.7M1142.0 1441.6V1548.8M1144.8 1441.6V1552.6M1147.5 1447.1V1552.6M1150.2 1446.6V1552.6M1152.9 1446.6V1535.1M1155.6 1471.5V1535.1M1158.4 1471.5V1536.3M1161.1 1471.5V1526.4M1163.8 1474.5V1527.6M1166.5 1419.1V1527.6M1169.2 1419.1V1532.6M1172.0 1419.1V1531.4M1174.7 1403.4V1527.6M1177.4 1402.2V1545.1M1180.1 1342.8V1545.1M1182.8 1342.8V1526.4M1185.6 1342.8V1508.9M1188.3 1348.6V1538.8M1191.0 1348.6V1548.8M1193.7 1424.6V1553.8M1196.4 1424.6V1592.5M1199.2 1424.6V1592.5M1201.9 1437.1V1592.5M1204.6 1400.2V1588.7M1207.3 1399.7V1588.7M1210.0 1399.7V1588.7M1212.8 1427.1V1563.8M1215.5 1427.1V1563.8M1218.2 1427.1V1531.4M1220.9 1442.1V1531.4M1223.6 1443.3V1531.4M1226.4 1446.6V1527.6M1229.1 1446.6V1527.6M1231.8 1446.6V1527.6M1234.5 1453.3V1543.8M1237.2 1453.3V1543.8M1240.0 1452.1V1543.8M1242.7 1430.1V1543.8M1245.4 1430.1V1556.3M1248.1 1405.9V1556.3M1250.8 1405.9V1616.1M1253.6 1405.9V1616.1M1256.3 1487.0V1681.0M1259.0 1424.6V1681.0M1261.7 1424.6V1681.0M1264.4 1321.1V1563.8M1267.2 1321.1V1704.3M1269.9 1321.1V1704.3M1272.6 1449.1V1613.7M1275.3 1444.1V1594.9M1278.0 1444.1V1594.9M1280.8 1444.1V1565.0M1283.5 1455.1V1563.8M1286.2 1463.3V1531.4M1288.9 1463.3V1531.4M1291.6 1462.0V1531.4M1294.4 1462.0V1526.4M1297.1 1468.3V1542.6M1299.8 1468.3V1542.6M1302.5 1457.5V1558.8M1305.2 1457.5V1558.8M1308.0 1455.1V1541.3M1310.7 1455.1V1541.3M1313.4 1454.6V1540.8M1316.1 1454.6V1556.3M1318.8 1463.3V1556.3M1321.6 1462.5V1556.3M1324.3 1434.6V1578.7M1327.0 1434.6V1578.7M1329.7 1427.1V1542.6M1332.4 1424.6V1543.8M1335.2 1424.6V1575.0M1337.9 1468.3V1575.0M1340.6 1464.5V1575.0M1343.3 1464.5V1553.8M1346.0 1465.8V1553.8M1348.8 1470.0V1553.8M1351.5 1470.0V1528.9M1354.2 1460.8V1523.9M1356.9 1460.8V1537.6M1359.6 1459.5V1537.6M1362.4 1449.6V1537.6M1365.1 1414.2V1527.6M1367.8 1414.2V1546.3M1370.5 1414.2V1546.3M1373.2 1455.1V1578.2M1376.0 1454.6V1578.2M1378.7 1469.5V1548.8M1381.4 1424.6V1592.5M1384.1 1367.3V1592.5M1386.8 1367.3V1592.5M1389.6 1424.6V1565.0M1392.3 1424.6V1542.6M1395.0 1424.6V1550.8M1397.7 1472.0V1550.8M1400.4 1484.5V1538.8M1403.2 1446.6V1535.1M1405.9 1446.6V1537.6M1408.6 1455.1V1537.6M1411.3 1454.6V1537.6M1414.0 1452.1V1538.8M1416.8 1458.3V1540.1M1419.5 1458.3V1540.1M1422.2 1452.1V1546.3M1424.9 1470.8V1545.1M1427.6 1472.0V1537.6M1430.4 1472.0V1537.6M1433.1 1460.8V1536.3M1435.8 1459.5V1536.3M1438.5 1455.1V1558.8M1441.2 1441.6V1558.8M1444.0 1441.6V1558.8M1446.7 1440.8V1548.8M1449.4 1444.6V1548.8M1452.1 1449.6V1548.8M1454.8 1452.1V1536.3M1457.6 1452.1V1533.9M1460.3 1455.1V1533.9M1463.0 1440.8V1520.1M1465.7 1440.8V1523.9M1468.4 1455.1V1540.1M1471.2 1454.6V1540.1M1473.9 1454.6V1548.8M1476.6 1463.3V1548.8"/>
<path class="d" stroke="#ff0000" d="M919.0 1461.8V1546.6M921.7 1439.3V1546.6M924.4 1439.3V1549.1M927.2 1428.6V1549.1M929.9 1428.6V1549.1M932.6 1428.6V1549.1M935.3 1466.8V1540.3M938.0 1451.8V1540.3M940.8 1420.6V1509.2M943.5 1420.6V1497.9M946.2 1442.6V1509.2M948.9 1442.6V1535.4M951.6 1442.6V1535.4M954.4 1436.8V1535.4M957.1 1436.8V1522.9M959.8 1454.3V1522.9M962.5 1445.6V1524.1M965.2 1445.6V1532.9M968.0 1445.6V1532.9M970.7 1456.8V1532.9M973.4 1448.1V1544.1M976.1 1447.6V1552.8M978.8 1447.6V1555.3M981.6 1453.1V1555.3M984.3 1451.8V1555.3M987.0 1451.8V1531.6M989.7 1445.1V1550.3M992.4 1444.3V1557.8M995.2 1444.3V1560.3M997.9 1435.6V1560.3M1000.6 1417.6V1560.3M1003.3 1417.6V1609.7M1006.0 1416.9V1609.7M1008.8 1448.1V1609.7M1011.5 1414.4V1536.6M1014.2 1414.4V1536.6M1016.9 1445.6V1576.5M1019.6 1423.6V1576.5M1022.4 1418.1V1576.5M1025.1 1418.1V1532.9M1027.8 1417.6V1565.3M1030.5 1425.6V1565.3M1033.2 1425.6V1537.8M1036.0 1465.5V1537.8M1038.7 1445.6V1537.8M1041.4 1445.6V1519.1M1044.1 1445.6V1527.9M1046.8 1465.5V1530.4M1049.6 1453.6V1544.1M1052.3 1453.6V1544.1M1055.0 1445.6V1544.1M1057.7 1445.6V1532.9M1060.4 1463.0V1562.8M1063.2 1475.5V1562.8M1065.9 1473.0V1562.8M1068.6 1445.1V1536.6M1071.3 1445.1V1537.8M1074.0 1445.1V1537.8M1076.8 1460.5V1544.1M1079.5 1447.6V1544.1M1082.2 1447.6V1575.3M1084.9 1446.8V1576.5M1087.6 1433.1V1576.5M1090.4 1431.9V1576.5M1093.1 1420.6V1537.8M1095.8 1420.6V1537.8M1098.5 1420.6V1560.3M1101.2 1439.3V1560.3M1104.0 1440.6V1534.1M1106.7 1445.6V1532.9M1109.4 1445.6V1540.3M1112.1 1446.8V1560.3M1114.8 1464.3V1560.3M1117.6 1431.9V1560.3M1120.3 1431.1V1551.6M1123.0 1431.1V1550.3M1125.7 1425.6V1551.6M1128.4 1425.1V1557.8M1131.2 1425.1V1557.8M1133.9 1415.2V1557.8M1136.6 1415.2V1545.3M1139.3 1448.1V1582.2M1142.0 1440.1V1582.2M1144.8 1440.1V1550.3M1147.5 1440.1V1554.1M1150.2 1445.6V1554.1M1152.9 1445.1V1554.1M1155.6 1445.1V1536.6M1158.4 1470.0V1536.6M1161.1 1470.0V1537.8M1163.8 1470.0V1527.9M1166.5 1473.0V1529.1M1169.2 1417.6V1529.1M1172.0 1417.6V1534.1M1174.7 1417.6V1532.9M1177.4 1401.9V1529.1M1180.1 1400.7V1546.6M1182.8 1341.3V1546.6M1185.6 1341.3V1527.9M1188.3 1341.3V1510.4M1191.0 1347.1V1540.3M1193.7 1347.1V1550.3M1196.4 1423.1V1555.3M1199.2 1423.1V1594.0M1201.9 1423.1V1594.0M1204.6 1435.6V1594.0M1207.3 1398.7V1590.2M1210.0 1398.2V1590.2M1212.8 1398.2V1590.2M1215.5 1425.6V1565.3M1218.2 1425.6V1565.3M1220.9 1425.6V1532.9M1223.6 1440.6V1532.9M1226.4 1441.8V1532.9M1229.1 1445.1V1529.1M1231.8 1445.1V1529.1M1234.5 1445.1V1529.1M1237.2 1451.8V1545.3M1240.0 1451.8V1545.3M1242.7 1450.6V1545.3M1245.4 1428.6V1545.3M1248.1 1428.6V1557.8M1250.8 1404.4V1557.8M1253.6 1404.4V1617.6M1256.3 1404.4V1617.6M1259.0 1485.5V1682.5M1261.7 1423.1V1682.5M1264.4 1423.1V1682.5M1267.2 1319.6V1565.3M1269.9 1319.6V1705.8M1272.6 1319.6V1705.8M1275.3 1447.6V1615.2M1278.0 1442.6V1596.4M1280.8 1442.6V1596.4M1283.5 1442.6V1566.5M1286.2 1453.6V1565.3M1288.9 1461.8V1532.9M1291.6 1461.8V1532.9M1294.4 1460.5V1532.9M1297.1 1460.5V1527.9M1299.8 1466.8V1544.1M1302.5 1466.8V1544.1M1305.2 1456.0V1560.3M1308.0 1456.0V1560.3M1310.7 1453.6V1542.8M1313.4 1453.6V1542.8M1316.1 1453.1V1542.3M1318.8 1453.1V1557.8M1321.6 1461.8V1557.8M1324.3 1461.0V1557.8M1327.0 1433.1V1580.2M1329.7 1433.1V1580.2M1332.4 1425.6V1544.1M1335.2 1423.1V1545.3M1337.9 1423.1V1576.5M1340.6 1466.8V1576.5M1343.3 1463.0V1576.5M1346.0 1463.0V1555.3M1348.8 1464.3V1555.3M1351.5 1468.5V1555.3M1354.2 1468.5V1530.4M1356.9 1459.3V1525.4M1359.6 1459.3V1539.1M1362.4 1458.0V1539.1M1365.1 1448.1V1539.1M1367.8 1412.7V1529.1M1370.5 1412.7V1547.8M1373.2 1412.7V1547.8M1376.0 1453.6V1579.7M1378.7 1453.1V1579.7M1381.4 1468.0V1550.3M1384.1 1423.1V1594.0M1386.8 1365.8V1594.0M1389.6 1365.8V1594.0M1392.3 1423.1V1566.5M1395.0 1423.1V1544.1M1397.7 1423.1V1552.3M1400.4 1470.5V1552.3M1403.2 1483.0V1540.3M1405.9 1445.1V1536.6M1408.6 1445.1V1539.1M1411.3 1453.6V1539.1M1414.0 1453.1V1539.1M1416.8 1450.6V1540.3M1419.5 1456.8V1541.6M1422.2 1456.8V1541.6M1424.9 1450.6V1547.8M1427.6 1469.3V1546.6M1430.4 1470.5V1539.1M1433.1 1470.5V1539.1M1435.8 1459.3V1537.8M1438.5 1458.0V1537.8M1441.2 1453.6V1560.3M1444.0 1440.1V1560.3M1446.7 1440.1V1560.3M1449.4 1439.3V1550.3M1452.1 1443.1V1550.3M1454.8 1448.1V1550.3M1457.6 1450.6V1537.8M1460.3 1450.6V1535.4M1463.0 1453.6V1535.4M1465.7 1439.3V1521.6M1468.4 1439.3V1525.4M1471.2 1453.6V1541.6M1473.9 1453.1V1541.6M1476.6 1453.1V1550.3M1479.3 1461.8V1550.3"/>
<text class="rm" transform="translate(1059.9,1700.4) scale(1,1.080)">RMS=6.3mm</text>
<text class="tk" text-anchor="middle" transform="translate(920.4,1789.4) scale(1,1.055)">0</text>
<text class="tk" text-anchor="middle" transform="translate(1060.2,1789.4) scale(1,1.055)">6</text>
<text class="tk" text-anchor="middle" transform="translate(1200.0,1789.4) scale(1,1.055)">12</text>
<text class="tk" text-anchor="middle" transform="translate(1339.7,1789.4) scale(1,1.055)">18</text>
<text class="tk" text-anchor="middle" transform="translate(1479.5,1789.4) scale(1,1.055)">24</text>
<text class="tk" text-anchor="end" transform="translate(895.6,1306.0) scale(1,1.055)">4</text>
<text class="tk" text-anchor="end" transform="translate(895.6,1412.3) scale(1,1.055)">2</text>
<text class="tk" text-anchor="end" transform="translate(895.6,1518.5) scale(1,1.055)">0</text>
<text class="tk" text-anchor="end" transform="translate(895.6,1624.8) scale(1,1.055)">-<tspan dx="2.5">2</tspan></text>
<text class="tk" text-anchor="end" transform="translate(895.6,1731.0) scale(1,1.055)">-<tspan dx="2.5">4</tspan></text>
<text class="lb" text-anchor="middle" x="1199.7" y="1871.5">Epoch [hour]</text>
</g>
<g>
<line class="gr" stroke-width="5.2" x1="1797.4" y1="1286.0" x2="1797.4" y2="1706.4"/>
<line class="gr" stroke-width="3.4" x1="1937.1" y1="1286.0" x2="1937.1" y2="1706.4"/>
<line class="gr" stroke-width="3.9" x1="2076.9" y1="1286.0" x2="2076.9" y2="1706.4"/>
<line class="gr" stroke-width="5.2" x1="1660.2" y1="1389.7" x2="2214.7" y2="1389.7"/>
<line class="gr" stroke-width="5.2" x1="1660.2" y1="1602.2" x2="2214.7" y2="1602.2"/>
<line x1="1657.60" y1="1280.90" x2="1657.60" y2="1711.00" stroke="#262626" stroke-width="5.00"/>
<line x1="2216.70" y1="1280.90" x2="2216.70" y2="1711.00" stroke="#262626" stroke-width="5.40"/>
<line x1="1655.10" y1="1283.45" x2="2219.40" y2="1283.45" stroke="#262626" stroke-width="5.10"/>
<line x1="1655.10" y1="1708.40" x2="2219.40" y2="1708.40" stroke="#262626" stroke-width="5.20"/>
<path class="d" stroke="#ff0000" stroke-opacity="0.38" d="M1657.0 1449.6V1556.3M1659.7 1449.6V1556.3M1662.4 1443.3V1556.3M1665.2 1443.3V1535.1M1667.9 1443.3V1535.1M1670.6 1469.5V1533.9M1673.3 1455.1V1528.9M1676.0 1444.6V1511.4M1678.8 1444.1V1501.4M1681.5 1438.3V1523.9M1684.2 1438.3V1523.9M1686.9 1452.1V1523.9M1689.6 1452.1V1515.1M1692.4 1452.1V1521.4M1695.1 1455.1V1521.4M1697.8 1455.1V1521.4M1700.5 1449.1V1528.9M1703.2 1449.1V1529.4M1706.0 1455.1V1529.4M1708.7 1455.1V1535.1M1711.4 1443.3V1545.1M1714.1 1443.3V1545.1M1716.8 1462.0V1545.1M1719.6 1472.0V1542.6M1722.3 1462.0V1525.1M1725.0 1449.1V1566.3M1727.7 1449.1V1566.3M1730.4 1452.1V1566.3M1733.2 1429.6V1555.0M1735.9 1429.1V1553.8M1738.6 1429.1V1597.4M1741.3 1449.6V1597.4M1744.0 1452.1V1597.4M1746.8 1419.1V1528.9M1749.5 1419.1V1545.1M1752.2 1419.1V1565.0M1754.9 1433.4V1565.0M1757.6 1432.6V1565.0M1760.4 1440.0V1556.3M1763.1 1440.0V1550.8M1765.8 1432.6V1550.8M1768.5 1437.1V1528.9M1771.2 1460.8V1528.9M1774.0 1460.8V1528.4M1776.7 1460.8V1521.4M1779.4 1463.3V1526.4M1782.1 1462.5V1548.8M1784.8 1462.5V1548.8M1787.6 1452.1V1548.8M1790.3 1452.1V1528.9M1793.0 1452.1V1533.9M1795.7 1462.0V1551.3M1798.4 1474.5V1551.3M1801.2 1482.0V1535.1M1803.9 1457.1V1528.9M1806.6 1457.1V1528.9M1809.3 1472.0V1528.9M1812.0 1454.6V1542.6M1814.8 1454.6V1542.6M1817.5 1454.1V1558.8M1820.2 1446.6V1558.8M1822.9 1446.6V1572.5M1825.6 1454.6V1572.5M1828.4 1455.1V1536.3M1831.1 1457.5V1545.1M1833.8 1457.1V1545.1M1836.5 1462.0V1545.1M1839.2 1455.1V1538.8M1842.0 1452.1V1523.9M1844.7 1452.1V1528.9M1847.4 1452.1V1528.9M1850.1 1455.8V1565.0M1852.8 1427.1V1565.0M1855.6 1427.1V1565.0M1858.3 1427.1V1547.6M1861.0 1430.9V1548.3M1863.7 1430.9V1548.3M1866.4 1427.1V1543.3M1869.2 1427.1V1543.3M1871.9 1427.1V1556.3M1874.6 1459.5V1556.3M1877.3 1459.5V1556.3M1880.0 1460.8V1543.8M1882.8 1479.5V1548.3M1885.5 1452.1V1547.6M1888.2 1452.1V1532.6M1890.9 1452.1V1531.4M1893.6 1477.0V1531.4M1896.4 1477.0V1531.4M1899.1 1476.5V1516.4M1901.8 1464.5V1526.4M1904.5 1463.3V1541.3M1907.2 1427.1V1541.3M1910.0 1427.1V1541.3M1912.7 1419.1V1533.9M1915.4 1418.4V1548.3M1918.1 1372.3V1548.3M1920.8 1372.3V1518.9M1923.6 1372.3V1547.6M1926.3 1372.3V1548.3M1929.0 1437.1V1548.3M1931.7 1422.1V1556.3M1934.4 1422.1V1591.2M1937.2 1427.1V1591.2M1939.9 1424.6V1577.5M1942.6 1407.2V1577.5M1945.3 1407.2V1577.5M1948.0 1459.5V1577.5M1950.8 1432.6V1553.8M1953.5 1432.6V1552.6M1956.2 1432.6V1528.9M1958.9 1447.1V1531.4M1961.6 1448.3V1531.4M1964.4 1448.3V1532.6M1967.1 1449.1V1532.6M1969.8 1474.5V1533.9M1972.5 1463.3V1545.1M1975.2 1462.0V1545.1M1978.0 1449.6V1528.9M1980.7 1449.1V1543.8M1983.4 1438.3V1545.1M1986.1 1402.2V1565.0M1988.8 1402.2V1592.5M1991.6 1459.5V1592.5M1994.3 1492.0V1643.6M1997.0 1419.6V1643.6M1999.7 1399.7V1592.5M2002.4 1399.7V1681.0M2005.2 1399.7V1681.0M2007.9 1433.4V1681.0M2010.6 1433.4V1553.8M2013.3 1433.4V1553.8M2016.0 1452.1V1552.6M2018.8 1463.3V1541.3M2021.5 1463.3V1533.9M2024.2 1469.5V1533.9M2026.9 1465.8V1531.4M2029.6 1464.5V1516.4M2032.4 1464.5V1516.4M2035.1 1457.1V1533.9M2037.8 1457.1V1533.9M2040.5 1457.1V1561.3M2043.2 1477.0V1561.3M2046.0 1477.0V1535.1M2048.7 1455.1V1535.1M2051.4 1454.6V1535.1M2054.1 1484.5V1561.3M2056.8 1457.5V1561.3M2059.6 1457.1V1577.5M2062.3 1439.6V1577.5M2065.0 1438.3V1548.8M2067.7 1417.2V1548.8M2070.4 1417.2V1547.6M2073.2 1415.9V1570.0M2075.9 1457.1V1570.0M2078.6 1472.0V1533.9M2081.3 1452.1V1550.8M2084.0 1452.1V1550.8M2086.8 1465.8V1550.8M2089.5 1471.4V1542.6M2092.2 1471.4V1542.6M2094.9 1465.8V1542.6M2097.6 1462.0V1538.8M2100.4 1417.2V1542.6M2103.1 1417.2V1542.6M2105.8 1416.7V1546.3M2108.5 1462.0V1572.5M2111.2 1449.1V1572.5M2114.0 1449.1V1572.5M2116.7 1449.6V1548.8M2119.4 1372.3V1608.2M2122.1 1372.3V1608.2M2124.8 1372.3V1608.2M2127.6 1442.1V1556.3M2130.3 1433.4V1548.3M2133.0 1433.4V1548.3M2135.7 1484.5V1547.6M2138.4 1464.5V1535.1M2141.2 1463.3V1535.1M2143.9 1452.1V1536.3M2146.6 1452.1V1521.4M2149.3 1452.1V1536.3M2152.0 1468.3V1527.5M2154.8 1449.1V1527.5M2157.5 1449.1V1536.3M2160.2 1469.5V1533.9M2162.9 1468.3V1533.9M2165.6 1471.6V1542.6M2168.4 1471.6V1542.6M2171.1 1468.3V1542.6M2173.8 1468.3V1518.9M2176.5 1454.6V1550.8M2179.2 1454.6V1550.8M2182.0 1454.6V1550.8M2184.7 1460.8V1533.9M2187.4 1460.8V1551.3M2190.1 1460.8V1553.3M2192.8 1438.3V1543.8M2195.6 1438.3V1543.8M2198.3 1438.3V1553.3M2201.0 1452.1V1523.9M2203.7 1452.1V1531.4M2206.4 1438.3V1531.4M2209.2 1438.3V1531.4M2211.9 1438.3V1528.9M2214.6 1462.0V1528.9"/>
<path class="d" stroke="#ff0000" d="M1657.0 1465.5V1542.8M1659.7 1448.1V1557.8M1662.4 1448.1V1557.8M1665.2 1441.8V1557.8M1667.9 1441.8V1536.6M1670.6 1441.8V1536.6M1673.3 1468.0V1535.4M1676.0 1453.6V1530.4M1678.8 1443.1V1512.9M1681.5 1442.6V1502.9M1684.2 1436.8V1525.4M1686.9 1436.8V1525.4M1689.6 1450.6V1525.4M1692.4 1450.6V1516.6M1695.1 1450.6V1522.9M1697.8 1453.6V1522.9M1700.5 1453.6V1522.9M1703.2 1447.6V1530.4M1706.0 1447.6V1530.9M1708.7 1453.6V1530.9M1711.4 1453.6V1536.6M1714.1 1441.8V1546.6M1716.8 1441.8V1546.6M1719.6 1460.5V1546.6M1722.3 1470.5V1544.1M1725.0 1460.5V1526.6M1727.7 1447.6V1567.8M1730.4 1447.6V1567.8M1733.2 1450.6V1567.8M1735.9 1428.1V1556.5M1738.6 1427.6V1555.3M1741.3 1427.6V1598.9M1744.0 1448.1V1598.9M1746.8 1450.6V1598.9M1749.5 1417.6V1530.4M1752.2 1417.6V1546.6M1754.9 1417.6V1566.5M1757.6 1431.9V1566.5M1760.4 1431.1V1566.5M1763.1 1438.5V1557.8M1765.8 1438.5V1552.3M1768.5 1431.1V1552.3M1771.2 1435.6V1530.4M1774.0 1459.3V1530.4M1776.7 1459.3V1529.9M1779.4 1459.3V1522.9M1782.1 1461.8V1527.9M1784.8 1461.0V1550.3M1787.6 1461.0V1550.3M1790.3 1450.6V1550.3M1793.0 1450.6V1530.4M1795.7 1450.6V1535.4M1798.4 1460.5V1552.8M1801.2 1473.0V1552.8M1803.9 1480.5V1536.6M1806.6 1455.6V1530.4M1809.3 1455.6V1530.4M1812.0 1470.5V1530.4M1814.8 1453.1V1544.1M1817.5 1453.1V1544.1M1820.2 1452.6V1560.3M1822.9 1445.1V1560.3M1825.6 1445.1V1574.0M1828.4 1453.1V1574.0M1831.1 1453.6V1537.8M1833.8 1456.0V1546.6M1836.5 1455.6V1546.6M1839.2 1460.5V1546.6M1842.0 1453.6V1540.3M1844.7 1450.6V1525.4M1847.4 1450.6V1530.4M1850.1 1450.6V1530.4M1852.8 1454.3V1566.5M1855.6 1425.6V1566.5M1858.3 1425.6V1566.5M1861.0 1425.6V1549.1M1863.7 1429.4V1549.8M1866.4 1429.4V1549.8M1869.2 1425.6V1544.8M1871.9 1425.6V1544.8M1874.6 1425.6V1557.8M1877.3 1458.0V1557.8M1880.0 1458.0V1557.8M1882.8 1459.3V1545.3M1885.5 1478.0V1549.8M1888.2 1450.6V1549.1M1890.9 1450.6V1534.1M1893.6 1450.6V1532.9M1896.4 1475.5V1532.9M1899.1 1475.5V1532.9M1901.8 1475.0V1517.9M1904.5 1463.0V1527.9M1907.2 1461.8V1542.8M1910.0 1425.6V1542.8M1912.7 1425.6V1542.8M1915.4 1417.6V1535.4M1918.1 1416.9V1549.8M1920.8 1370.8V1549.8M1923.6 1370.8V1520.4M1926.3 1370.8V1549.1M1929.0 1370.8V1549.8M1931.7 1435.6V1549.8M1934.4 1420.6V1557.8M1937.2 1420.6V1592.7M1939.9 1425.6V1592.7M1942.6 1423.1V1579.0M1945.3 1405.7V1579.0M1948.0 1405.7V1579.0M1950.8 1458.0V1579.0M1953.5 1431.1V1555.3M1956.2 1431.1V1554.1M1958.9 1431.1V1530.4M1961.6 1445.6V1532.9M1964.4 1446.8V1532.9M1967.1 1446.8V1534.1M1969.8 1447.6V1534.1M1972.5 1473.0V1535.4M1975.2 1461.8V1546.6M1978.0 1460.5V1546.6M1980.7 1448.1V1530.4M1983.4 1447.6V1545.3M1986.1 1436.8V1546.6M1988.8 1400.7V1566.5M1991.6 1400.7V1594.0M1994.3 1458.0V1594.0M1997.0 1490.5V1645.1M1999.7 1418.1V1645.1M2002.4 1398.2V1594.0M2005.2 1398.2V1682.5M2007.9 1398.2V1682.5M2010.6 1431.9V1682.5M2013.3 1431.9V1555.3M2016.0 1431.9V1555.3M2018.8 1450.6V1554.1M2021.5 1461.8V1542.8M2024.2 1461.8V1535.4M2026.9 1468.0V1535.4M2029.6 1464.3V1532.9M2032.4 1463.0V1517.9M2035.1 1463.0V1517.9M2037.8 1455.6V1535.4M2040.5 1455.6V1535.4M2043.2 1455.6V1562.8M2046.0 1475.5V1562.8M2048.7 1475.5V1536.6M2051.4 1453.6V1536.6M2054.1 1453.1V1536.6M2056.8 1483.0V1562.8M2059.6 1456.0V1562.8M2062.3 1455.6V1579.0M2065.0 1438.1V1579.0M2067.7 1436.8V1550.3M2070.4 1415.7V1550.3M2073.2 1415.7V1549.1M2075.9 1414.4V1571.5M2078.6 1455.6V1571.5M2081.3 1470.5V1535.4M2084.0 1450.6V1552.3M2086.8 1450.6V1552.3M2089.5 1464.3V1552.3M2092.2 1469.9V1544.1M2094.9 1469.9V1544.1M2097.6 1464.3V1544.1M2100.4 1460.5V1540.3M2103.1 1415.7V1544.1M2105.8 1415.7V1544.1M2108.5 1415.2V1547.8M2111.2 1460.5V1574.0M2114.0 1447.6V1574.0M2116.7 1447.6V1574.0M2119.4 1448.1V1550.3M2122.1 1370.8V1609.7M2124.8 1370.8V1609.7M2127.6 1370.8V1609.7M2130.3 1440.6V1557.8M2133.0 1431.9V1549.8M2135.7 1431.9V1549.8M2138.4 1483.0V1549.1M2141.2 1463.0V1536.6M2143.9 1461.8V1536.6M2146.6 1450.6V1537.8M2149.3 1450.6V1522.9M2152.0 1450.6V1537.8M2154.8 1466.8V1529.0M2157.5 1447.6V1529.0M2160.2 1447.6V1537.8M2162.9 1468.0V1535.4M2165.6 1466.8V1535.4M2168.4 1470.1V1544.1M2171.1 1470.1V1544.1M2173.8 1466.8V1544.1M2176.5 1466.8V1520.4M2179.2 1453.1V1552.3M2182.0 1453.1V1552.3M2184.7 1453.1V1552.3M2187.4 1459.3V1535.4M2190.1 1459.3V1552.8M2192.8 1459.3V1554.8M2195.6 1436.8V1545.3M2198.3 1436.8V1545.3M2201.0 1436.8V1554.8M2203.7 1450.6V1525.4M2206.4 1450.6V1532.9M2209.2 1436.8V1532.9M2211.9 1436.8V1532.9M2214.6 1436.8V1530.4M2217.3 1460.5V1530.4"/>
<text class="rm" transform="translate(1797.9,1700.4) scale(1,1.080)">RMS=5.9mm</text>
<text class="tk" text-anchor="middle" transform="translate(1658.4,1789.4) scale(1,1.055)">0</text>
<text class="tk" text-anchor="middle" transform="translate(1798.2,1789.4) scale(1,1.055)">6</text>
<text class="tk" text-anchor="middle" transform="translate(1937.9,1789.4) scale(1,1.055)">12</text>
<text class="tk" text-anchor="middle" transform="translate(2077.7,1789.4) scale(1,1.055)">18</text>
<text class="tk" text-anchor="middle" transform="translate(2217.5,1789.4) scale(1,1.055)">24</text>
<text class="tk" text-anchor="end" transform="translate(1634.1,1306.0) scale(1,1.055)">4</text>
<text class="tk" text-anchor="end" transform="translate(1634.1,1412.3) scale(1,1.055)">2</text>
<text class="tk" text-anchor="end" transform="translate(1634.1,1518.5) scale(1,1.055)">0</text>
<text class="tk" text-anchor="end" transform="translate(1634.1,1624.8) scale(1,1.055)">-<tspan dx="2.5">2</tspan></text>
<text class="tk" text-anchor="end" transform="translate(1634.1,1731.0) scale(1,1.055)">-<tspan dx="2.5">4</tspan></text>
<text class="lb" text-anchor="middle" x="1937.6" y="1871.5">Epoch [hour]</text>
<rect x="1889.45" y="1294.45" width="316.05" height="89.55" fill="#fff"/>
<line x1="1889.45" y1="1380.20" x2="2205.50" y2="1380.20" stroke="#b3b3b3" stroke-width="2.20"/>
<line x1="1893.50" y1="1294.45" x2="1893.50" y2="1384.00" stroke="#a8a8a8" stroke-width="2.70"/>
<line x1="1890.80" y1="1294.45" x2="1890.80" y2="1384.00" stroke="#262626" stroke-width="2.70"/>
<line x1="2203.00" y1="1294.45" x2="2203.00" y2="1384.00" stroke="#262626" stroke-width="5.00"/>
<line x1="1889.45" y1="1295.80" x2="2205.50" y2="1295.80" stroke="#262626" stroke-width="2.70"/>
<line x1="1889.45" y1="1382.65" x2="2205.50" y2="1382.65" stroke="#262626" stroke-width="2.70"/>
<line x1="1921.70" y1="1338.30" x2="2105.30" y2="1338.30" stroke="#ff0000" stroke-width="5.90"/>
<text class="lg" x="2119.6" y="1358.6">dU</text>
</g>
</svg></body></html>
